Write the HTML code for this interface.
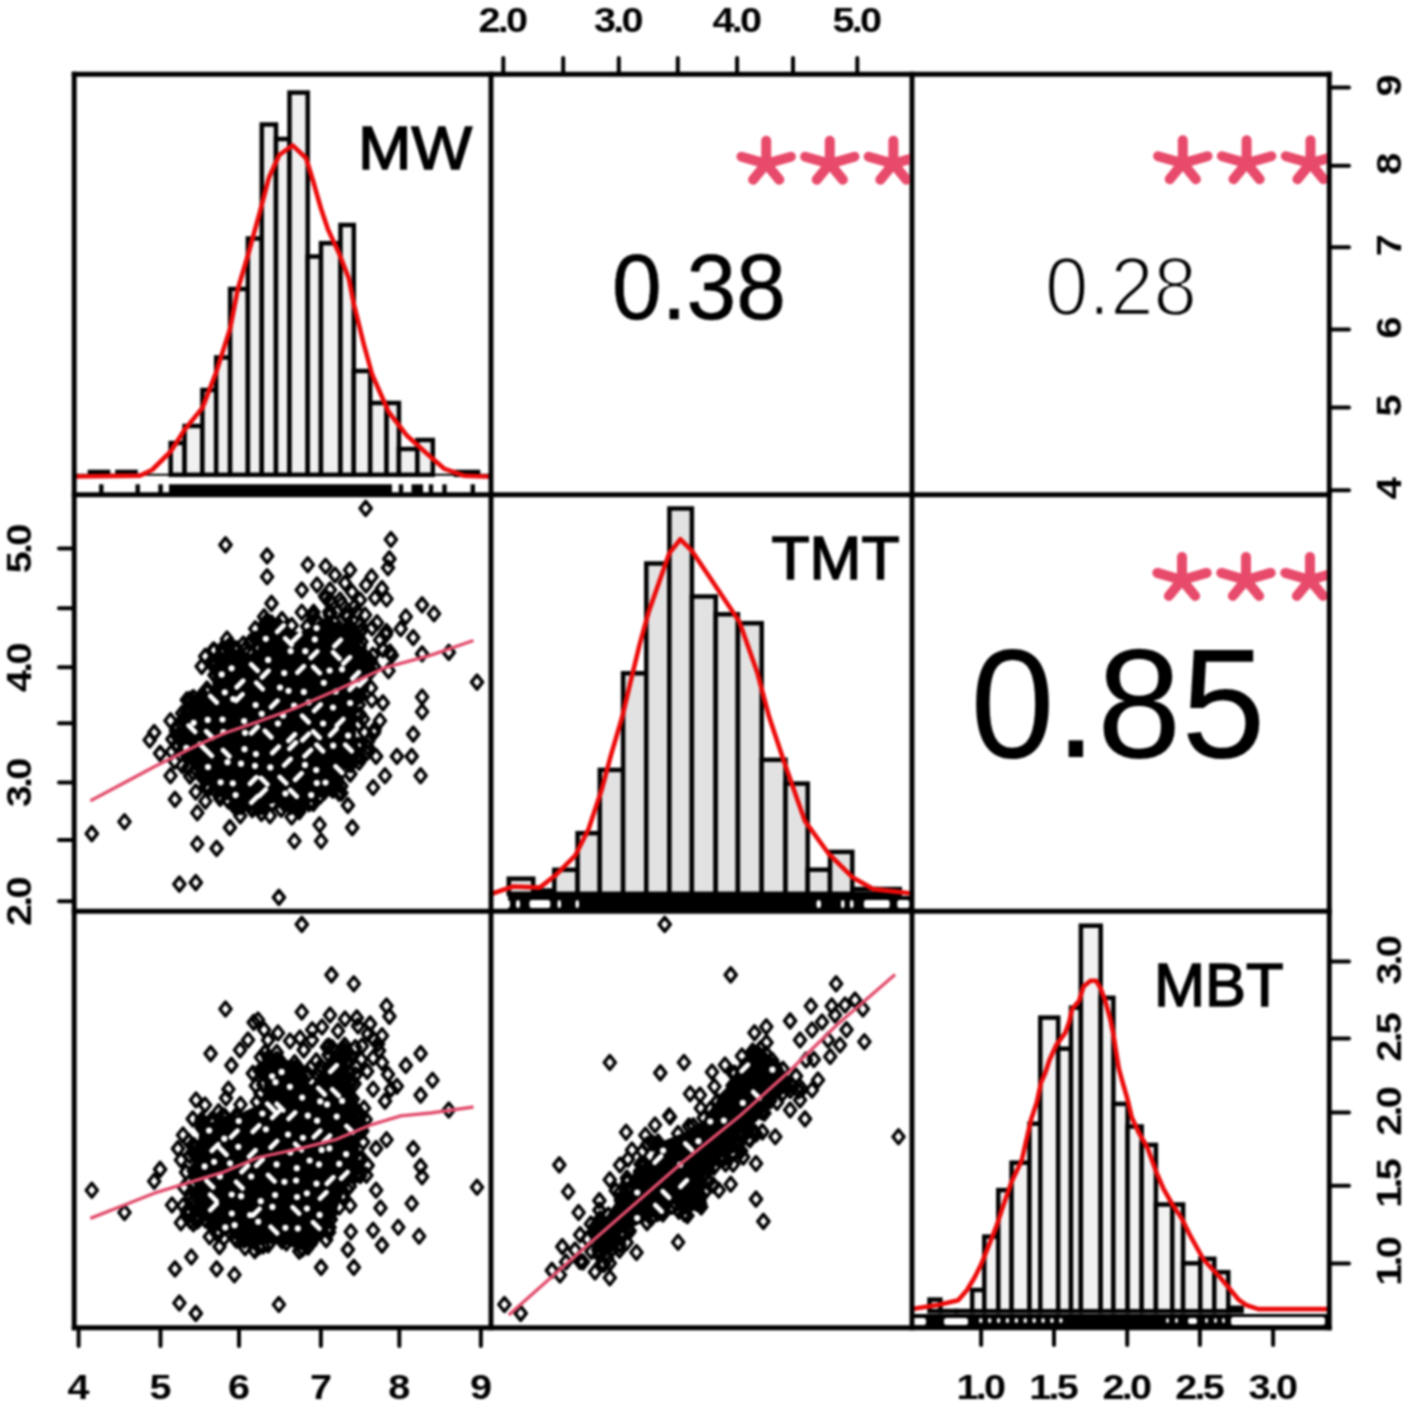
<!DOCTYPE html>
<html><head><meta charset="utf-8"><title>Correlation chart</title>
<style>html,body{margin:0;padding:0;background:#fff;}svg{display:block;filter:blur(0.9px);}</style></head>
<body><svg width="1417" height="1414" viewBox="0 0 1417 1414">
<rect width="1417" height="1414" fill="#fff"/>
<defs>
<clipPath id="c12"><rect x="491" y="74" width="418.8" height="420"/></clipPath>
<clipPath id="c13"><rect x="912" y="74" width="415.1" height="420"/></clipPath>
<clipPath id="c23"><rect x="912" y="495" width="415.1" height="416"/></clipPath>
</defs>
<rect x="170.7" y="443.0" width="13.9" height="31.8" fill="#f0f0f0" stroke="#000" stroke-width="4.5"/>
<rect x="184.6" y="426.0" width="17.8" height="48.8" fill="#f0f0f0" stroke="#000" stroke-width="4.5"/>
<rect x="202.4" y="390.0" width="13.8" height="84.8" fill="#f0f0f0" stroke="#000" stroke-width="4.5"/>
<rect x="216.2" y="357.5" width="13.9" height="117.3" fill="#f0f0f0" stroke="#000" stroke-width="4.5"/>
<rect x="230.1" y="289.0" width="17.8" height="185.8" fill="#f0f0f0" stroke="#000" stroke-width="4.5"/>
<rect x="247.9" y="238.5" width="13.9" height="236.3" fill="#f0f0f0" stroke="#000" stroke-width="4.5"/>
<rect x="261.8" y="124.5" width="14.2" height="350.3" fill="#f0f0f0" stroke="#000" stroke-width="4.5"/>
<rect x="276.0" y="139.0" width="13.5" height="335.8" fill="#f0f0f0" stroke="#000" stroke-width="4.5"/>
<rect x="289.5" y="92.6" width="18.2" height="382.2" fill="#f0f0f0" stroke="#000" stroke-width="4.5"/>
<rect x="307.7" y="256.5" width="13.3" height="218.3" fill="#f0f0f0" stroke="#000" stroke-width="4.5"/>
<rect x="321.0" y="243.2" width="19.5" height="231.6" fill="#f0f0f0" stroke="#000" stroke-width="4.5"/>
<rect x="340.5" y="225.0" width="13.3" height="249.8" fill="#f0f0f0" stroke="#000" stroke-width="4.5"/>
<rect x="353.8" y="371.0" width="16.4" height="103.8" fill="#f0f0f0" stroke="#000" stroke-width="4.5"/>
<rect x="370.2" y="403.0" width="16.4" height="71.8" fill="#f0f0f0" stroke="#000" stroke-width="4.5"/>
<rect x="386.6" y="403.0" width="12.3" height="71.8" fill="#f0f0f0" stroke="#000" stroke-width="4.5"/>
<rect x="398.9" y="449.0" width="18.5" height="25.8" fill="#f0f0f0" stroke="#000" stroke-width="4.5"/>
<rect x="417.4" y="440.0" width="15.4" height="34.8" fill="#f0f0f0" stroke="#000" stroke-width="4.5"/>
<rect x="90" y="472" width="18" height="2.8000000000000114" fill="#f0f0f0" stroke="#000" stroke-width="4.6"/>
<rect x="117.5" y="472" width="18.0" height="2.8000000000000114" fill="#f0f0f0" stroke="#000" stroke-width="4.6"/>
<rect x="456" y="472" width="22" height="2.8000000000000114" fill="#f0f0f0" stroke="#000" stroke-width="4.6"/>
<line x1="74" y1="474.8" x2="491" y2="474.8" stroke="#000" stroke-width="2"/>
<rect x="508.8" y="878.7" width="24.4" height="15.1" fill="#e2e2e2" stroke="#000" stroke-width="4.5"/>
<rect x="533.2" y="890.5" width="21.1" height="3.3" fill="#e2e2e2" stroke="#000" stroke-width="4.5"/>
<rect x="554.3" y="869.8" width="23.3" height="24.0" fill="#e2e2e2" stroke="#000" stroke-width="4.5"/>
<rect x="577.6" y="833.2" width="22.2" height="60.6" fill="#e2e2e2" stroke="#000" stroke-width="4.5"/>
<rect x="599.8" y="769.9" width="23.3" height="123.9" fill="#e2e2e2" stroke="#000" stroke-width="4.5"/>
<rect x="623.1" y="673.3" width="23.2" height="220.5" fill="#e2e2e2" stroke="#000" stroke-width="4.5"/>
<rect x="646.3" y="563.5" width="23.1" height="330.3" fill="#e2e2e2" stroke="#000" stroke-width="4.5"/>
<rect x="669.4" y="508.5" width="22.5" height="385.3" fill="#e2e2e2" stroke="#000" stroke-width="4.5"/>
<rect x="691.9" y="596.5" width="23.8" height="297.3" fill="#e2e2e2" stroke="#000" stroke-width="4.5"/>
<rect x="715.7" y="614.3" width="22.2" height="279.5" fill="#e2e2e2" stroke="#000" stroke-width="4.5"/>
<rect x="737.9" y="623.2" width="23.8" height="270.6" fill="#e2e2e2" stroke="#000" stroke-width="4.5"/>
<rect x="761.7" y="759.8" width="23.8" height="134.0" fill="#e2e2e2" stroke="#000" stroke-width="4.5"/>
<rect x="785.5" y="783.6" width="22.2" height="110.2" fill="#e2e2e2" stroke="#000" stroke-width="4.5"/>
<rect x="807.7" y="869.7" width="22.3" height="24.1" fill="#e2e2e2" stroke="#000" stroke-width="4.5"/>
<rect x="830.0" y="851.9" width="22.3" height="41.9" fill="#e2e2e2" stroke="#000" stroke-width="4.5"/>
<rect x="852.3" y="889.0" width="23.8" height="4.8" fill="#e2e2e2" stroke="#000" stroke-width="4.5"/>
<rect x="876.1" y="889.0" width="23.7" height="4.8" fill="#e2e2e2" stroke="#000" stroke-width="4.5"/>
<rect x="929.5" y="1299.6" width="10.9" height="11.6" fill="#f2f2f2" stroke="#000" stroke-width="4.5"/>
<rect x="940.4" y="1311.0" width="15.9" height="0.2" fill="#f2f2f2" stroke="#000" stroke-width="4.5"/>
<rect x="956.3" y="1311.0" width="15.9" height="0.2" fill="#f2f2f2" stroke="#000" stroke-width="4.5"/>
<rect x="972.2" y="1290.0" width="12.1" height="21.2" fill="#f2f2f2" stroke="#000" stroke-width="4.5"/>
<rect x="984.3" y="1236.6" width="14.0" height="74.6" fill="#f2f2f2" stroke="#000" stroke-width="4.5"/>
<rect x="998.3" y="1190.1" width="13.3" height="121.1" fill="#f2f2f2" stroke="#000" stroke-width="4.5"/>
<rect x="1011.6" y="1162.7" width="17.9" height="148.5" fill="#f2f2f2" stroke="#000" stroke-width="4.5"/>
<rect x="1029.5" y="1123.7" width="10.8" height="187.5" fill="#f2f2f2" stroke="#000" stroke-width="4.5"/>
<rect x="1040.3" y="1017.6" width="17.9" height="293.6" fill="#f2f2f2" stroke="#000" stroke-width="4.5"/>
<rect x="1058.2" y="1048.7" width="12.8" height="262.5" fill="#f2f2f2" stroke="#000" stroke-width="4.5"/>
<rect x="1071.0" y="1007.7" width="9.9" height="303.5" fill="#f2f2f2" stroke="#000" stroke-width="4.5"/>
<rect x="1080.9" y="925.7" width="19.8" height="385.5" fill="#f2f2f2" stroke="#000" stroke-width="4.5"/>
<rect x="1100.7" y="997.8" width="12.7" height="313.4" fill="#f2f2f2" stroke="#000" stroke-width="4.5"/>
<rect x="1113.4" y="1103.9" width="14.2" height="207.3" fill="#f2f2f2" stroke="#000" stroke-width="4.5"/>
<rect x="1127.6" y="1126.5" width="14.1" height="184.7" fill="#f2f2f2" stroke="#000" stroke-width="4.5"/>
<rect x="1141.7" y="1144.9" width="14.2" height="166.3" fill="#f2f2f2" stroke="#000" stroke-width="4.5"/>
<rect x="1155.9" y="1204.5" width="16.4" height="106.7" fill="#f2f2f2" stroke="#000" stroke-width="4.5"/>
<rect x="1172.3" y="1204.5" width="10.8" height="106.7" fill="#f2f2f2" stroke="#000" stroke-width="4.5"/>
<rect x="1183.1" y="1263.3" width="17.2" height="47.9" fill="#f2f2f2" stroke="#000" stroke-width="4.5"/>
<rect x="1200.3" y="1258.8" width="14.0" height="52.4" fill="#f2f2f2" stroke="#000" stroke-width="4.5"/>
<rect x="1214.3" y="1272.2" width="14.0" height="39.0" fill="#f2f2f2" stroke="#000" stroke-width="4.5"/>
<rect x="1228.3" y="1307.8" width="13.3" height="3.4" fill="#f2f2f2" stroke="#000" stroke-width="4.5"/>
<rect x="169" y="484.3" width="223" height="9.699999999999989" fill="#000"/>
<rect x="411.5" y="484.3" width="11.5" height="9.699999999999989" fill="#000"/>
<rect x="99.1" y="484.3" width="4.4" height="9.699999999999989" fill="#000"/>
<rect x="135.5" y="484.3" width="4.4" height="9.699999999999989" fill="#000"/>
<rect x="158.4" y="484.3" width="4.4" height="9.699999999999989" fill="#000"/>
<rect x="398.8" y="484.3" width="4.4" height="9.699999999999989" fill="#000"/>
<rect x="428.8" y="484.3" width="4.4" height="9.699999999999989" fill="#000"/>
<rect x="442.3" y="484.3" width="4.4" height="9.699999999999989" fill="#000"/>
<rect x="470.6" y="484.3" width="4.4" height="9.699999999999989" fill="#000"/>
<rect x="508" y="896" width="404" height="15" fill="#000"/>
<rect x="496" y="900" width="14" height="8" rx="2.5" fill="#fff"/>
<rect x="516" y="900" width="4" height="8" rx="2.5" fill="#fff"/>
<rect x="529.5" y="900" width="20.799999999999955" height="8" rx="2.5" fill="#fff"/>
<rect x="557.5" y="900" width="3.5" height="8" rx="2.5" fill="#fff"/>
<rect x="575.5" y="900" width="3.5" height="8" rx="2.5" fill="#fff"/>
<rect x="816.5" y="900" width="4.5" height="8" rx="2.5" fill="#fff"/>
<rect x="841" y="900" width="3.5" height="8" rx="2.5" fill="#fff"/>
<rect x="850" y="900" width="3.5" height="8" rx="2.5" fill="#fff"/>
<rect x="863.9" y="900" width="25.800000000000068" height="8" rx="2.5" fill="#fff"/>
<rect x="897.3" y="900" width="12.100000000000023" height="8" rx="2.5" fill="#fff"/>
<rect x="912" y="1314" width="417" height="14" fill="#000"/>
<rect x="912" y="1318" width="14" height="7" rx="2.5" fill="#fff"/>
<rect x="944" y="1318" width="24" height="7" rx="2.5" fill="#fff"/>
<rect x="979.0" y="1318" width="3.5" height="5" rx="2.5" fill="#fff"/>
<rect x="987.9" y="1318" width="3.5" height="5" rx="2.5" fill="#fff"/>
<rect x="996.8" y="1318" width="3.5" height="5" rx="2.5" fill="#fff"/>
<rect x="1005.7" y="1318" width="3.5" height="5" rx="2.5" fill="#fff"/>
<rect x="1014.6" y="1318" width="3.5" height="5" rx="2.5" fill="#fff"/>
<rect x="1023.5" y="1318" width="3.5" height="5" rx="2.5" fill="#fff"/>
<rect x="1032.4" y="1318" width="3.5" height="5" rx="2.5" fill="#fff"/>
<rect x="1041.3" y="1318" width="3.5" height="5" rx="2.5" fill="#fff"/>
<rect x="1050.2" y="1318" width="3.5" height="5" rx="2.5" fill="#fff"/>
<rect x="1059.1" y="1318" width="3.5" height="5" rx="2.5" fill="#fff"/>
<rect x="1166" y="1318" width="3" height="5" rx="2.5" fill="#fff"/>
<rect x="1175" y="1318" width="3" height="5" rx="2.5" fill="#fff"/>
<rect x="1188" y="1318" width="9" height="6" rx="2.5" fill="#fff"/>
<rect x="1205" y="1318" width="3" height="5" rx="2.5" fill="#fff"/>
<rect x="1214" y="1318" width="3" height="5" rx="2.5" fill="#fff"/>
<rect x="1222" y="1318" width="3" height="5" rx="2.5" fill="#fff"/>
<rect x="1231" y="1317" width="94" height="8" rx="2.5" fill="#fff"/>
<polyline points="74.0,476.5 140.0,475.6 152.0,470.0 170.7,451.5 184.6,429.7 202.4,407.9 216.2,372.3 230.1,328.7 237.6,290.0 248.0,255.0 259.9,212.0 268.8,178.0 279.2,155.0 292.6,145.3 306.0,158.0 313.4,182.0 320.8,208.0 328.2,229.9 338.6,252.2 349.0,279.0 353.8,304.0 364.0,345.0 372.3,375.0 388.7,412.0 407.1,435.8 427.6,454.3 444.0,468.6 464.5,475.8 491.0,476.8" fill="none" stroke="#ec0a0a" stroke-width="4.6" stroke-linejoin="round" stroke-linecap="round" />
<polyline points="491.0,894.0 513.2,886.5 539.8,887.6 555.4,875.3 575.4,855.3 588.7,828.7 602.0,788.7 610.9,755.4 622.0,717.7 628.6,690.0 639.5,645.0 648.4,612.8 658.8,583.1 669.2,553.4 680.4,539.3 691.5,550.4 709.7,577.2 739.4,621.7 757.2,672.2 769.1,716.8 784.0,761.4 804.8,820.8 828.5,853.5 852.3,877.2 873.1,889.1 912.0,893.5" fill="none" stroke="#ec0a0a" stroke-width="4.6" stroke-linejoin="round" stroke-linecap="round" />
<polyline points="912.0,1309.0 939.1,1304.7 958.2,1300.2 967.1,1290.0 974.7,1277.3 981.1,1264.6 986.2,1251.8 996.4,1226.4 1002.7,1207.3 1011.6,1181.8 1021.8,1160.2 1031.1,1119.4 1036.8,1102.5 1041.0,1082.7 1045.3,1072.8 1049.5,1060.0 1056.6,1044.5 1065.1,1033.2 1069.3,1021.8 1072.1,1009.1 1079.2,1000.6 1083.5,986.5 1090.5,980.8 1096.2,980.8 1100.4,987.9 1104.7,999.2 1110.3,1019.0 1113.2,1033.2 1116.0,1051.5 1118.8,1068.5 1122.6,1082.3 1127.2,1098.1 1131.7,1117.3 1138.5,1132.0 1147.5,1147.9 1156.6,1172.8 1163.4,1188.6 1172.4,1204.5 1181.5,1218.0 1190.5,1236.2 1203.5,1259.5 1220.0,1277.3 1239.1,1300.2 1246.7,1305.3 1258.2,1309.1 1329.0,1309.1" fill="none" stroke="#ec0a0a" stroke-width="4.6" stroke-linejoin="round" stroke-linecap="round" />
<clipPath id="sc21"><rect x="76.4" y="497" width="412.4" height="412"/></clipPath>
<clipPath id="sc31"><rect x="76.4" y="913.4" width="412.4" height="412"/></clipPath>
<clipPath id="sc32"><rect x="493.2" y="913.4" width="416.6" height="412"/></clipPath>
<g clip-path="url(#sc21)">
<polygon points="178.5,737.7 178.5,751.4 182.3,757.1 193.0,765.1 205.8,774.0 206.5,774.6 207.2,775.2 207.8,775.8 208.3,776.6 208.7,777.4 216.4,793.6 227.3,798.7 244.9,800.5 245.8,800.7 262.0,804.3 278.2,800.7 279.0,800.6 279.9,800.5 280.8,800.5 281.7,800.7 282.6,800.9 298.0,805.8 308.8,799.6 309.7,799.2 310.6,798.8 326.7,794.1 342.0,785.7 343.5,771.1 343.7,770.3 343.9,769.6 344.1,768.8 344.4,768.1 344.8,767.5 345.3,766.8 345.8,766.2 356.2,755.0 354.5,736.8 354.5,736.0 354.5,713.0 354.5,712.2 354.6,711.4 354.8,710.7 355.1,709.9 364.1,686.9 364.4,686.2 364.7,685.6 365.1,685.0 365.6,684.4 376.3,672.2 372.5,662.3 361.4,648.3 361.2,648.2 349.1,632.3 336.2,623.7 323.9,619.6 320.5,622.5 319.9,623.0 319.2,623.4 303.2,632.4 302.4,632.8 301.6,633.1 300.8,633.3 300.0,633.4 299.1,633.5 298.3,633.5 297.4,633.4 296.6,633.2 295.8,632.9 295.0,632.5 279.4,624.2 269.8,623.0 261.1,634.3 259.4,648.1 259.3,648.9 259.1,649.7 258.8,650.5 258.4,651.2 257.9,651.9 257.4,652.6 256.8,653.2 256.2,653.7 255.5,654.2 254.8,654.6 254.0,655.0 253.2,655.2 252.4,655.4 251.5,655.5 250.7,655.5 249.9,655.4 249.0,655.3 248.2,655.0 228.1,648.1 215.3,665.1 213.5,688.7 213.4,689.5 213.2,690.3 212.9,691.1 212.6,691.9 212.1,692.6 211.7,693.3 211.1,693.9 210.5,694.5 209.8,695.0 209.1,695.4 191.7,705.0 178.5,737.7" fill="#000" stroke="#000" stroke-width="3" stroke-linejoin="round"/>
<path d="M369.8,654.0l5.6,7.0l-5.6,7.0l-5.6,-7.0zM353.4,754.3l5.6,7.0l-5.6,7.0l-5.6,-7.0zM284.5,797.4l5.6,7.0l-5.6,7.0l-5.6,-7.0zM188.9,702.8l5.6,7.0l-5.6,7.0l-5.6,-7.0zM374.1,659.9l5.6,7.0l-5.6,7.0l-5.6,-7.0zM250.1,796.5l5.6,7.0l-5.6,7.0l-5.6,-7.0zM290.7,799.4l5.6,7.0l-5.6,7.0l-5.6,-7.0zM241.8,799.6l5.6,7.0l-5.6,7.0l-5.6,-7.0zM176.5,738.4l5.6,7.0l-5.6,7.0l-5.6,-7.0zM307.2,619.4l5.6,7.0l-5.6,7.0l-5.6,-7.0zM214.6,668.1l5.6,7.0l-5.6,7.0l-5.6,-7.0zM362.2,622.6l5.6,7.0l-5.6,7.0l-5.6,-7.0zM207.1,781.8l5.6,7.0l-5.6,7.0l-5.6,-7.0zM221.5,646.5l5.6,7.0l-5.6,7.0l-5.6,-7.0zM243.3,637.0l5.6,7.0l-5.6,7.0l-5.6,-7.0zM350.3,766.8l5.6,7.0l-5.6,7.0l-5.6,-7.0zM261.1,796.6l5.6,7.0l-5.6,7.0l-5.6,-7.0zM361.5,634.7l5.6,7.0l-5.6,7.0l-5.6,-7.0zM214.5,654.8l5.6,7.0l-5.6,7.0l-5.6,-7.0zM299.3,804.6l5.6,7.0l-5.6,7.0l-5.6,-7.0zM354.6,625.2l5.6,7.0l-5.6,7.0l-5.6,-7.0zM329.3,604.9l5.6,7.0l-5.6,7.0l-5.6,-7.0zM291.6,810.0l5.6,7.0l-5.6,7.0l-5.6,-7.0zM183.1,712.1l5.6,7.0l-5.6,7.0l-5.6,-7.0zM201.7,659.4l5.6,7.0l-5.6,7.0l-5.6,-7.0zM359.6,688.9l5.6,7.0l-5.6,7.0l-5.6,-7.0zM222.2,642.3l5.6,7.0l-5.6,7.0l-5.6,-7.0zM190.3,692.2l5.6,7.0l-5.6,7.0l-5.6,-7.0zM227.9,640.0l5.6,7.0l-5.6,7.0l-5.6,-7.0zM188.3,760.4l5.6,7.0l-5.6,7.0l-5.6,-7.0zM299.5,801.7l5.6,7.0l-5.6,7.0l-5.6,-7.0zM202.5,764.3l5.6,7.0l-5.6,7.0l-5.6,-7.0zM186.3,711.4l5.6,7.0l-5.6,7.0l-5.6,-7.0zM360.0,707.6l5.6,7.0l-5.6,7.0l-5.6,-7.0zM265.2,617.2l5.6,7.0l-5.6,7.0l-5.6,-7.0zM182.2,706.3l5.6,7.0l-5.6,7.0l-5.6,-7.0zM311.2,794.4l5.6,7.0l-5.6,7.0l-5.6,-7.0zM205.3,649.4l5.6,7.0l-5.6,7.0l-5.6,-7.0zM359.9,639.5l5.6,7.0l-5.6,7.0l-5.6,-7.0zM206.7,769.3l5.6,7.0l-5.6,7.0l-5.6,-7.0zM207.2,685.2l5.6,7.0l-5.6,7.0l-5.6,-7.0zM388.5,663.7l5.6,7.0l-5.6,7.0l-5.6,-7.0zM360.4,689.0l5.6,7.0l-5.6,7.0l-5.6,-7.0zM248.9,644.5l5.6,7.0l-5.6,7.0l-5.6,-7.0zM366.8,745.8l5.6,7.0l-5.6,7.0l-5.6,-7.0zM213.3,643.1l5.6,7.0l-5.6,7.0l-5.6,-7.0zM209.2,781.1l5.6,7.0l-5.6,7.0l-5.6,-7.0zM371.7,693.0l5.6,7.0l-5.6,7.0l-5.6,-7.0zM177.1,729.1l5.6,7.0l-5.6,7.0l-5.6,-7.0zM313.6,605.3l5.6,7.0l-5.6,7.0l-5.6,-7.0zM256.6,794.7l5.6,7.0l-5.6,7.0l-5.6,-7.0zM200.5,761.4l5.6,7.0l-5.6,7.0l-5.6,-7.0zM279.1,618.7l5.6,7.0l-5.6,7.0l-5.6,-7.0zM206.9,682.1l5.6,7.0l-5.6,7.0l-5.6,-7.0zM180.1,729.9l5.6,7.0l-5.6,7.0l-5.6,-7.0zM210.2,770.1l5.6,7.0l-5.6,7.0l-5.6,-7.0zM358.6,630.5l5.6,7.0l-5.6,7.0l-5.6,-7.0zM186.8,706.0l5.6,7.0l-5.6,7.0l-5.6,-7.0zM298.5,799.2l5.6,7.0l-5.6,7.0l-5.6,-7.0zM263.2,626.3l5.6,7.0l-5.6,7.0l-5.6,-7.0zM281.2,802.4l5.6,7.0l-5.6,7.0l-5.6,-7.0zM271.6,616.0l5.6,7.0l-5.6,7.0l-5.6,-7.0zM313.4,796.5l5.6,7.0l-5.6,7.0l-5.6,-7.0zM233.7,798.6l5.6,7.0l-5.6,7.0l-5.6,-7.0zM234.1,641.6l5.6,7.0l-5.6,7.0l-5.6,-7.0zM357.9,738.4l5.6,7.0l-5.6,7.0l-5.6,-7.0zM361.2,737.7l5.6,7.0l-5.6,7.0l-5.6,-7.0zM368.0,734.5l5.6,7.0l-5.6,7.0l-5.6,-7.0zM205.4,794.2l5.6,7.0l-5.6,7.0l-5.6,-7.0zM359.9,624.7l5.6,7.0l-5.6,7.0l-5.6,-7.0zM201.7,769.7l5.6,7.0l-5.6,7.0l-5.6,-7.0zM354.0,628.2l5.6,7.0l-5.6,7.0l-5.6,-7.0zM362.9,646.8l5.6,7.0l-5.6,7.0l-5.6,-7.0zM351.7,753.8l5.6,7.0l-5.6,7.0l-5.6,-7.0zM251.0,801.1l5.6,7.0l-5.6,7.0l-5.6,-7.0zM193.4,690.5l5.6,7.0l-5.6,7.0l-5.6,-7.0zM261.3,631.1l5.6,7.0l-5.6,7.0l-5.6,-7.0zM313.3,609.2l5.6,7.0l-5.6,7.0l-5.6,-7.0zM257.8,639.0l5.6,7.0l-5.6,7.0l-5.6,-7.0zM348.2,754.5l5.6,7.0l-5.6,7.0l-5.6,-7.0zM350.3,757.7l5.6,7.0l-5.6,7.0l-5.6,-7.0zM175.9,723.8l5.6,7.0l-5.6,7.0l-5.6,-7.0zM206.0,779.4l5.6,7.0l-5.6,7.0l-5.6,-7.0zM250.3,634.9l5.6,7.0l-5.6,7.0l-5.6,-7.0zM358.9,697.7l5.6,7.0l-5.6,7.0l-5.6,-7.0zM240.8,791.4l5.6,7.0l-5.6,7.0l-5.6,-7.0zM212.7,656.9l5.6,7.0l-5.6,7.0l-5.6,-7.0zM352.7,624.1l5.6,7.0l-5.6,7.0l-5.6,-7.0zM262.3,799.3l5.6,7.0l-5.6,7.0l-5.6,-7.0zM269.6,618.4l5.6,7.0l-5.6,7.0l-5.6,-7.0zM288.1,794.4l5.6,7.0l-5.6,7.0l-5.6,-7.0zM320.3,788.9l5.6,7.0l-5.6,7.0l-5.6,-7.0zM236.7,794.1l5.6,7.0l-5.6,7.0l-5.6,-7.0zM203.9,689.6l5.6,7.0l-5.6,7.0l-5.6,-7.0zM361.9,681.9l5.6,7.0l-5.6,7.0l-5.6,-7.0zM345.2,607.8l5.6,7.0l-5.6,7.0l-5.6,-7.0zM216.0,657.0l5.6,7.0l-5.6,7.0l-5.6,-7.0zM220.1,791.5l5.6,7.0l-5.6,7.0l-5.6,-7.0zM356.6,750.7l5.6,7.0l-5.6,7.0l-5.6,-7.0zM201.3,766.8l5.6,7.0l-5.6,7.0l-5.6,-7.0zM298.4,802.7l5.6,7.0l-5.6,7.0l-5.6,-7.0zM177.2,738.0l5.6,7.0l-5.6,7.0l-5.6,-7.0zM351.6,621.3l5.6,7.0l-5.6,7.0l-5.6,-7.0zM292.7,796.3l5.6,7.0l-5.6,7.0l-5.6,-7.0zM264.8,622.1l5.6,7.0l-5.6,7.0l-5.6,-7.0zM215.5,669.2l5.6,7.0l-5.6,7.0l-5.6,-7.0zM351.3,756.9l5.6,7.0l-5.6,7.0l-5.6,-7.0zM291.7,618.5l5.6,7.0l-5.6,7.0l-5.6,-7.0zM372.9,648.3l5.6,7.0l-5.6,7.0l-5.6,-7.0zM219.4,788.7l5.6,7.0l-5.6,7.0l-5.6,-7.0zM223.3,646.2l5.6,7.0l-5.6,7.0l-5.6,-7.0zM363.1,712.0l5.6,7.0l-5.6,7.0l-5.6,-7.0zM261.4,806.4l5.6,7.0l-5.6,7.0l-5.6,-7.0zM172.4,732.1l5.6,7.0l-5.6,7.0l-5.6,-7.0zM331.2,781.8l5.6,7.0l-5.6,7.0l-5.6,-7.0zM272.0,796.6l5.6,7.0l-5.6,7.0l-5.6,-7.0zM282.0,612.6l5.6,7.0l-5.6,7.0l-5.6,-7.0zM332.9,783.1l5.6,7.0l-5.6,7.0l-5.6,-7.0zM174.7,754.2l5.6,7.0l-5.6,7.0l-5.6,-7.0zM329.9,608.2l5.6,7.0l-5.6,7.0l-5.6,-7.0zM236.7,641.9l5.6,7.0l-5.6,7.0l-5.6,-7.0zM315.8,612.5l5.6,7.0l-5.6,7.0l-5.6,-7.0zM240.3,794.2l5.6,7.0l-5.6,7.0l-5.6,-7.0zM347.7,621.8l5.6,7.0l-5.6,7.0l-5.6,-7.0zM339.1,620.9l5.6,7.0l-5.6,7.0l-5.6,-7.0zM202.3,687.5l5.6,7.0l-5.6,7.0l-5.6,-7.0zM297.0,798.6l5.6,7.0l-5.6,7.0l-5.6,-7.0zM190.1,769.1l5.6,7.0l-5.6,7.0l-5.6,-7.0zM222.6,641.1l5.6,7.0l-5.6,7.0l-5.6,-7.0zM330.7,605.7l5.6,7.0l-5.6,7.0l-5.6,-7.0zM265.9,615.1l5.6,7.0l-5.6,7.0l-5.6,-7.0zM244.2,643.3l5.6,7.0l-5.6,7.0l-5.6,-7.0zM177.9,720.7l5.6,7.0l-5.6,7.0l-5.6,-7.0zM229.7,638.5l5.6,7.0l-5.6,7.0l-5.6,-7.0zM182.3,758.6l5.6,7.0l-5.6,7.0l-5.6,-7.0zM341.4,786.0l5.6,7.0l-5.6,7.0l-5.6,-7.0zM339.1,786.3l5.6,7.0l-5.6,7.0l-5.6,-7.0zM255.4,632.3l5.6,7.0l-5.6,7.0l-5.6,-7.0zM358.7,717.3l5.6,7.0l-5.6,7.0l-5.6,-7.0zM344.7,624.5l5.6,7.0l-5.6,7.0l-5.6,-7.0zM214.4,643.3l5.6,7.0l-5.6,7.0l-5.6,-7.0zM262.5,629.7l5.6,7.0l-5.6,7.0l-5.6,-7.0zM237.9,799.9l5.6,7.0l-5.6,7.0l-5.6,-7.0zM171.8,744.8l5.6,7.0l-5.6,7.0l-5.6,-7.0zM362.5,679.0l5.6,7.0l-5.6,7.0l-5.6,-7.0zM259.0,800.7l5.6,7.0l-5.6,7.0l-5.6,-7.0zM309.0,796.7l5.6,7.0l-5.6,7.0l-5.6,-7.0zM193.0,765.6l5.6,7.0l-5.6,7.0l-5.6,-7.0zM324.2,785.3l5.6,7.0l-5.6,7.0l-5.6,-7.0zM199.4,692.5l5.6,7.0l-5.6,7.0l-5.6,-7.0zM364.6,725.4l5.6,7.0l-5.6,7.0l-5.6,-7.0zM355.0,628.4l5.6,7.0l-5.6,7.0l-5.6,-7.0zM188.6,705.9l5.6,7.0l-5.6,7.0l-5.6,-7.0zM359.5,749.5l5.6,7.0l-5.6,7.0l-5.6,-7.0zM225.5,537.9l5.6,7.0l-5.6,7.0l-5.6,-7.0zM267.1,548.9l5.6,7.0l-5.6,7.0l-5.6,-7.0zM267.1,569.7l5.6,7.0l-5.6,7.0l-5.6,-7.0zM271.5,596.4l5.6,7.0l-5.6,7.0l-5.6,-7.0zM264.1,609.8l5.6,7.0l-5.6,7.0l-5.6,-7.0zM255.2,621.7l5.6,7.0l-5.6,7.0l-5.6,-7.0zM227.0,632.0l5.6,7.0l-5.6,7.0l-5.6,-7.0zM210.6,655.8l5.6,7.0l-5.6,7.0l-5.6,-7.0zM186.9,692.9l5.6,7.0l-5.6,7.0l-5.6,-7.0zM170.5,713.7l5.6,7.0l-5.6,7.0l-5.6,-7.0zM154.2,725.6l5.6,7.0l-5.6,7.0l-5.6,-7.0zM149.7,733.0l5.6,7.0l-5.6,7.0l-5.6,-7.0zM160.1,746.4l5.6,7.0l-5.6,7.0l-5.6,-7.0zM170.5,768.7l5.6,7.0l-5.6,7.0l-5.6,-7.0zM175.0,792.4l5.6,7.0l-5.6,7.0l-5.6,-7.0zM195.8,785.0l5.6,7.0l-5.6,7.0l-5.6,-7.0zM197.3,805.8l5.6,7.0l-5.6,7.0l-5.6,-7.0zM124.5,814.7l5.6,7.0l-5.6,7.0l-5.6,-7.0zM91.8,826.6l5.6,7.0l-5.6,7.0l-5.6,-7.0zM197.3,837.0l5.6,7.0l-5.6,7.0l-5.6,-7.0zM216.6,841.4l5.6,7.0l-5.6,7.0l-5.6,-7.0zM229.9,820.6l5.6,7.0l-5.6,7.0l-5.6,-7.0zM179.4,877.1l5.6,7.0l-5.6,7.0l-5.6,-7.0zM195.8,875.6l5.6,7.0l-5.6,7.0l-5.6,-7.0zM278.9,890.4l5.6,7.0l-5.6,7.0l-5.6,-7.0zM270.0,808.8l5.6,7.0l-5.6,7.0l-5.6,-7.0zM365.7,501.4l5.6,7.0l-5.6,7.0l-5.6,-7.0zM390.9,532.5l5.6,7.0l-5.6,7.0l-5.6,-7.0zM389.4,551.9l5.6,7.0l-5.6,7.0l-5.6,-7.0zM388.0,560.8l5.6,7.0l-5.6,7.0l-5.6,-7.0zM307.8,557.8l5.6,7.0l-5.6,7.0l-5.6,-7.0zM325.6,559.3l5.6,7.0l-5.6,7.0l-5.6,-7.0zM371.6,569.7l5.6,7.0l-5.6,7.0l-5.6,-7.0zM382.0,581.6l5.6,7.0l-5.6,7.0l-5.6,-7.0zM386.5,592.0l5.6,7.0l-5.6,7.0l-5.6,-7.0zM301.8,583.0l5.6,7.0l-5.6,7.0l-5.6,-7.0zM301.8,605.3l5.6,7.0l-5.6,7.0l-5.6,-7.0zM422.1,597.9l5.6,7.0l-5.6,7.0l-5.6,-7.0zM434.0,606.8l5.6,7.0l-5.6,7.0l-5.6,-7.0zM405.8,609.8l5.6,7.0l-5.6,7.0l-5.6,-7.0zM413.2,630.6l5.6,7.0l-5.6,7.0l-5.6,-7.0zM386.5,624.6l5.6,7.0l-5.6,7.0l-5.6,-7.0zM422.1,646.9l5.6,7.0l-5.6,7.0l-5.6,-7.0zM448.8,645.4l5.6,7.0l-5.6,7.0l-5.6,-7.0zM477.0,675.1l5.6,7.0l-5.6,7.0l-5.6,-7.0zM422.1,690.0l5.6,7.0l-5.6,7.0l-5.6,-7.0zM422.1,704.8l5.6,7.0l-5.6,7.0l-5.6,-7.0zM413.2,727.1l5.6,7.0l-5.6,7.0l-5.6,-7.0zM411.7,749.4l5.6,7.0l-5.6,7.0l-5.6,-7.0zM396.9,749.4l5.6,7.0l-5.6,7.0l-5.6,-7.0zM376.1,749.4l5.6,7.0l-5.6,7.0l-5.6,-7.0zM385.0,768.7l5.6,7.0l-5.6,7.0l-5.6,-7.0zM420.6,768.7l5.6,7.0l-5.6,7.0l-5.6,-7.0zM373.1,780.5l5.6,7.0l-5.6,7.0l-5.6,-7.0zM374.6,722.6l5.6,7.0l-5.6,7.0l-5.6,-7.0zM347.9,798.4l5.6,7.0l-5.6,7.0l-5.6,-7.0zM352.3,820.6l5.6,7.0l-5.6,7.0l-5.6,-7.0zM319.6,817.7l5.6,7.0l-5.6,7.0l-5.6,-7.0zM321.1,834.0l5.6,7.0l-5.6,7.0l-5.6,-7.0zM294.4,834.0l5.6,7.0l-5.6,7.0l-5.6,-7.0zM335.0,568.0l5.6,7.0l-5.6,7.0l-5.6,-7.0zM345.0,576.0l5.6,7.0l-5.6,7.0l-5.6,-7.0zM352.0,585.0l5.6,7.0l-5.6,7.0l-5.6,-7.0zM360.0,593.0l5.6,7.0l-5.6,7.0l-5.6,-7.0zM340.0,593.0l5.6,7.0l-5.6,7.0l-5.6,-7.0zM330.0,583.0l5.6,7.0l-5.6,7.0l-5.6,-7.0zM350.0,563.0l5.6,7.0l-5.6,7.0l-5.6,-7.0zM366.0,578.0l5.6,7.0l-5.6,7.0l-5.6,-7.0zM375.0,591.0l5.6,7.0l-5.6,7.0l-5.6,-7.0zM357.0,605.0l5.6,7.0l-5.6,7.0l-5.6,-7.0zM317.0,578.0l5.6,7.0l-5.6,7.0l-5.6,-7.0zM325.0,589.0l5.6,7.0l-5.6,7.0l-5.6,-7.0zM377.0,615.7l5.6,7.0l-5.6,7.0l-5.6,-7.0zM385.9,627.6l5.6,7.0l-5.6,7.0l-5.6,-7.0zM400.7,621.7l5.6,7.0l-5.6,7.0l-5.6,-7.0zM382.9,642.4l5.6,7.0l-5.6,7.0l-5.6,-7.0zM391.8,648.4l5.6,7.0l-5.6,7.0l-5.6,-7.0zM371.0,654.3l5.6,7.0l-5.6,7.0l-5.6,-7.0zM365.1,666.2l5.6,7.0l-5.6,7.0l-5.6,-7.0zM371.0,681.0l5.6,7.0l-5.6,7.0l-5.6,-7.0zM382.9,695.9l5.6,7.0l-5.6,7.0l-5.6,-7.0zM379.9,713.7l5.6,7.0l-5.6,7.0l-5.6,-7.0zM374.0,725.6l5.6,7.0l-5.6,7.0l-5.6,-7.0zM368.0,740.4l5.6,7.0l-5.6,7.0l-5.6,-7.0zM359.1,755.3l5.6,7.0l-5.6,7.0l-5.6,-7.0zM350.2,767.2l5.6,7.0l-5.6,7.0l-5.6,-7.0zM341.3,779.1l5.6,7.0l-5.6,7.0l-5.6,-7.0zM216.6,785.0l5.6,7.0l-5.6,7.0l-5.6,-7.0zM204.7,770.1l5.6,7.0l-5.6,7.0l-5.6,-7.0zM228.4,793.9l5.6,7.0l-5.6,7.0l-5.6,-7.0zM240.3,808.8l5.6,7.0l-5.6,7.0l-5.6,-7.0zM252.2,802.8l5.6,7.0l-5.6,7.0l-5.6,-7.0zM330.0,593.0l5.6,7.0l-5.6,7.0l-5.6,-7.0zM342.0,597.0l5.6,7.0l-5.6,7.0l-5.6,-7.0zM355.0,599.0l5.6,7.0l-5.6,7.0l-5.6,-7.0zM365.0,608.0l5.6,7.0l-5.6,7.0l-5.6,-7.0zM372.0,621.0l5.6,7.0l-5.6,7.0l-5.6,-7.0zM380.0,633.0l5.6,7.0l-5.6,7.0l-5.6,-7.0zM390.0,645.0l5.6,7.0l-5.6,7.0l-5.6,-7.0zM348.0,609.0l5.6,7.0l-5.6,7.0l-5.6,-7.0zM360.0,618.0l5.6,7.0l-5.6,7.0l-5.6,-7.0zM337.0,605.0l5.6,7.0l-5.6,7.0l-5.6,-7.0zM326.0,591.0l5.6,7.0l-5.6,7.0l-5.6,-7.0z" fill="none" stroke="#000" stroke-width="3.4" stroke-linejoin="round"/>
<g fill="#fff"><circle cx="316.6" cy="628.1" r="3.1"/><circle cx="265.8" cy="638.8" r="3.1"/><circle cx="314.8" cy="639.4" r="3.1"/><circle cx="268.1" cy="659.9" r="3.1"/><circle cx="290.6" cy="651.1" r="3.1"/><circle cx="305.3" cy="651.2" r="3.1"/><circle cx="221.7" cy="674.4" r="3.1"/><circle cx="231.6" cy="668.3" r="3.1"/><circle cx="284.2" cy="673.1" r="3.1"/><circle cx="329.6" cy="670.5" r="3.1"/><circle cx="342.0" cy="669.3" r="3.1"/><circle cx="224.8" cy="692.3" r="3.1"/><circle cx="280.0" cy="687.5" r="3.1"/><circle cx="288.5" cy="690.8" r="3.1"/><circle cx="303.8" cy="691.9" r="3.1"/><circle cx="323.8" cy="682.8" r="3.1"/><circle cx="335.7" cy="691.5" r="3.1"/><circle cx="233.2" cy="699.1" r="3.1"/><circle cx="255.6" cy="705.0" r="3.1"/><circle cx="294.1" cy="705.6" r="3.1"/><circle cx="308.7" cy="702.3" r="3.1"/><circle cx="333.0" cy="707.5" r="3.1"/><circle cx="350.1" cy="703.0" r="3.1"/><circle cx="193.7" cy="722.8" r="3.1"/><circle cx="207.7" cy="719.9" r="3.1"/><circle cx="222.5" cy="719.5" r="3.1"/><circle cx="244.1" cy="721.0" r="3.1"/><circle cx="261.7" cy="713.8" r="3.1"/><circle cx="277.9" cy="723.6" r="3.1"/><circle cx="283.1" cy="715.5" r="3.1"/><circle cx="323.1" cy="723.5" r="3.1"/><circle cx="223.3" cy="732.0" r="3.1"/><circle cx="245.0" cy="732.8" r="3.1"/><circle cx="348.1" cy="735.6" r="3.1"/><circle cx="186.3" cy="747.9" r="3.1"/><circle cx="244.5" cy="749.2" r="3.1"/><circle cx="255.9" cy="754.1" r="3.1"/><circle cx="333.2" cy="745.7" r="3.1"/><circle cx="208.0" cy="767.0" r="3.1"/><circle cx="227.5" cy="762.2" r="3.1"/><circle cx="241.0" cy="763.7" r="3.1"/><circle cx="255.0" cy="765.8" r="3.1"/><circle cx="270.3" cy="767.4" r="3.1"/><circle cx="305.0" cy="764.9" r="3.1"/><circle cx="316.2" cy="770.0" r="3.1"/><circle cx="220.6" cy="782.3" r="3.1"/><circle cx="232.8" cy="783.3" r="3.1"/><circle cx="316.8" cy="783.1" r="3.1"/><circle cx="325.5" cy="782.5" r="3.1"/><circle cx="235.6" cy="795.1" r="3.1"/><circle cx="285.4" cy="793.6" r="3.1"/><circle cx="311.2" cy="795.1" r="3.1"/></g>
<path d="M277.2,631.9l6.4,-6.4M285.2,638.4l6.4,6.4M293.6,640.8l6.4,-6.4M334.4,646.3l6.4,-6.4M310.9,657.8l6.4,-6.4M333.1,652.3l6.4,6.4M343.5,663.6l6.4,-6.4M251.2,664.4l6.4,6.4M262.1,677.2l6.4,-6.4M297.4,672.6l6.4,-6.4M313.3,666.7l6.4,6.4M352.4,678.6l6.4,-6.4M236.7,687.2l6.4,-6.4M256.3,682.7l6.4,6.4M349.7,689.7l6.4,-6.4M359.4,685.5l6.4,-6.4M210.3,696.1l6.4,6.4M236.1,700.8l6.4,-6.4M271.1,707.1l6.4,-6.4M314.2,710.9l6.4,-6.4M302.2,715.8l6.4,6.4M336.9,725.5l6.4,-6.4M188.7,725.5l6.4,6.4M206.2,731.3l6.4,6.4M251.2,733.3l6.4,-6.4M264.9,730.8l6.4,6.4M288.5,740.7l6.4,-6.4M302.4,740.3l6.4,-6.4M313.2,731.4l6.4,6.4M330.2,735.2l6.4,-6.4M199.7,743.8l6.4,6.4M205.4,749.5l6.4,6.4M223.0,750.0l6.4,6.4M272.3,753.0l6.4,-6.4M289.5,748.9l6.4,-6.4M304.6,756.3l6.4,-6.4M316.6,744.8l6.4,6.4M345.3,744.7l6.4,6.4M284.2,765.4l6.4,-6.4M335.6,766.4l6.4,6.4M250.0,783.7l6.4,-6.4M261.0,778.0l6.4,6.4M279.8,777.0l6.4,6.4M295.2,779.7l6.4,-6.4M251.3,802.6l6.4,-6.4M259.4,795.8l6.4,-6.4M290.3,790.1l6.4,6.4" stroke="#fff" stroke-width="4.8" stroke-linecap="round" fill="none"/>
<polyline points="90.3,800.9 122.0,784.0 154.2,766.8 198.7,744.5 225.0,733.0 252.2,723.7 293.8,708.8 341.3,688.0 385.9,667.3 430.4,655.4 473.5,640.5" fill="none" stroke="#e24c6c" stroke-width="3.3" stroke-linejoin="round"/>
</g>
<g clip-path="url(#sc31)">
<polygon points="200.6,1123.3 201.0,1125.7 201.1,1126.4 201.1,1127.2 201.1,1128.0 199.0,1148.5 198.8,1149.3 198.6,1150.1 191.5,1173.3 197.9,1184.4 198.2,1185.1 198.5,1185.9 198.8,1186.6 198.9,1187.4 199.0,1188.2 199.0,1189.1 198.9,1189.9 198.7,1190.7 195.4,1204.0 201.5,1216.1 215.3,1228.3 232.2,1233.9 233.1,1234.3 233.9,1234.7 234.7,1235.3 249.2,1246.5 259.0,1242.4 259.8,1242.1 260.6,1241.9 261.4,1241.7 262.2,1241.7 263.1,1241.7 285.6,1243.7 286.5,1243.9 287.5,1244.1 303.3,1249.4 315.7,1245.3 322.3,1232.0 322.6,1231.4 334.6,1211.5 342.5,1191.6 342.9,1190.8 343.4,1190.0 343.9,1189.3 354.5,1176.9 358.2,1143.6 354.3,1116.0 354.3,1115.9 350.2,1083.2 346.4,1060.5 340.3,1050.6 332.1,1052.4 321.5,1080.9 321.1,1081.6 320.7,1082.4 320.3,1083.0 319.7,1083.7 319.2,1084.2 318.5,1084.8 317.8,1085.2 317.1,1085.6 316.4,1085.9 315.6,1086.1 314.8,1086.3 313.9,1086.4 313.1,1086.4 312.3,1086.3 311.5,1086.2 310.7,1085.9 310.0,1085.6 309.2,1085.2 308.5,1084.8 307.9,1084.3 307.3,1083.7 306.8,1083.1 306.3,1082.4 305.9,1081.7 295.9,1061.8 284.8,1061.8 283.9,1061.8 283.0,1061.6 282.1,1061.4 266.2,1056.1 265.1,1056.4 265.5,1057.1 265.9,1057.8 266.2,1058.6 266.4,1059.4 266.6,1060.3 266.7,1061.1 266.7,1062.0 264.6,1098.9 264.5,1099.7 264.3,1100.6 264.1,1101.4 263.7,1102.1 263.3,1102.9 262.8,1103.6 262.3,1104.2 261.7,1104.8 261.0,1105.3 260.3,1105.8 259.6,1106.2 241.2,1114.4 241.1,1114.4 222.6,1122.6 221.8,1122.9 221.0,1123.1 220.1,1123.3 219.2,1123.3 200.6,1123.3" fill="#000" stroke="#000" stroke-width="3" stroke-linejoin="round"/>
<path d="M296.2,1060.4l5.6,7.0l-5.6,7.0l-5.6,-7.0zM209.7,1229.8l5.6,7.0l-5.6,7.0l-5.6,-7.0zM316.3,1053.9l5.6,7.0l-5.6,7.0l-5.6,-7.0zM350.0,1089.6l5.6,7.0l-5.6,7.0l-5.6,-7.0zM235.1,1230.6l5.6,7.0l-5.6,7.0l-5.6,-7.0zM348.3,1045.4l5.6,7.0l-5.6,7.0l-5.6,-7.0zM356.3,1167.9l5.6,7.0l-5.6,7.0l-5.6,-7.0zM263.2,1077.7l5.6,7.0l-5.6,7.0l-5.6,-7.0zM329.0,1060.0l5.6,7.0l-5.6,7.0l-5.6,-7.0zM184.1,1180.5l5.6,7.0l-5.6,7.0l-5.6,-7.0zM270.1,1052.4l5.6,7.0l-5.6,7.0l-5.6,-7.0zM188.7,1134.4l5.6,7.0l-5.6,7.0l-5.6,-7.0zM252.9,1066.4l5.6,7.0l-5.6,7.0l-5.6,-7.0zM183.0,1198.7l5.6,7.0l-5.6,7.0l-5.6,-7.0zM350.5,1073.7l5.6,7.0l-5.6,7.0l-5.6,-7.0zM241.7,1231.4l5.6,7.0l-5.6,7.0l-5.6,-7.0zM299.3,1244.1l5.6,7.0l-5.6,7.0l-5.6,-7.0zM348.8,1055.8l5.6,7.0l-5.6,7.0l-5.6,-7.0zM218.6,1104.7l5.6,7.0l-5.6,7.0l-5.6,-7.0zM286.4,1235.9l5.6,7.0l-5.6,7.0l-5.6,-7.0zM343.0,1188.1l5.6,7.0l-5.6,7.0l-5.6,-7.0zM193.7,1146.8l5.6,7.0l-5.6,7.0l-5.6,-7.0zM220.7,1115.4l5.6,7.0l-5.6,7.0l-5.6,-7.0zM343.6,1042.6l5.6,7.0l-5.6,7.0l-5.6,-7.0zM358.0,1150.9l5.6,7.0l-5.6,7.0l-5.6,-7.0zM223.8,1231.5l5.6,7.0l-5.6,7.0l-5.6,-7.0zM196.2,1186.9l5.6,7.0l-5.6,7.0l-5.6,-7.0zM329.1,1225.3l5.6,7.0l-5.6,7.0l-5.6,-7.0zM308.0,1240.2l5.6,7.0l-5.6,7.0l-5.6,-7.0zM191.8,1195.2l5.6,7.0l-5.6,7.0l-5.6,-7.0zM350.6,1097.7l5.6,7.0l-5.6,7.0l-5.6,-7.0zM211.2,1218.2l5.6,7.0l-5.6,7.0l-5.6,-7.0zM204.9,1117.7l5.6,7.0l-5.6,7.0l-5.6,-7.0zM260.8,1064.9l5.6,7.0l-5.6,7.0l-5.6,-7.0zM320.3,1064.6l5.6,7.0l-5.6,7.0l-5.6,-7.0zM196.8,1214.1l5.6,7.0l-5.6,7.0l-5.6,-7.0zM361.9,1151.5l5.6,7.0l-5.6,7.0l-5.6,-7.0zM302.5,1241.9l5.6,7.0l-5.6,7.0l-5.6,-7.0zM365.7,1112.5l5.6,7.0l-5.6,7.0l-5.6,-7.0zM322.5,1075.7l5.6,7.0l-5.6,7.0l-5.6,-7.0zM268.2,1050.5l5.6,7.0l-5.6,7.0l-5.6,-7.0zM366.4,1168.2l5.6,7.0l-5.6,7.0l-5.6,-7.0zM213.6,1115.0l5.6,7.0l-5.6,7.0l-5.6,-7.0zM332.3,1040.7l5.6,7.0l-5.6,7.0l-5.6,-7.0zM198.9,1145.8l5.6,7.0l-5.6,7.0l-5.6,-7.0zM265.1,1045.4l5.6,7.0l-5.6,7.0l-5.6,-7.0zM308.2,1067.3l5.6,7.0l-5.6,7.0l-5.6,-7.0zM326.2,1232.7l5.6,7.0l-5.6,7.0l-5.6,-7.0zM195.5,1170.1l5.6,7.0l-5.6,7.0l-5.6,-7.0zM350.2,1198.5l5.6,7.0l-5.6,7.0l-5.6,-7.0zM259.0,1240.0l5.6,7.0l-5.6,7.0l-5.6,-7.0zM240.5,1097.5l5.6,7.0l-5.6,7.0l-5.6,-7.0zM317.5,1067.9l5.6,7.0l-5.6,7.0l-5.6,-7.0zM310.7,1060.5l5.6,7.0l-5.6,7.0l-5.6,-7.0zM193.4,1216.8l5.6,7.0l-5.6,7.0l-5.6,-7.0zM211.5,1112.9l5.6,7.0l-5.6,7.0l-5.6,-7.0zM268.2,1237.9l5.6,7.0l-5.6,7.0l-5.6,-7.0zM350.1,1074.4l5.6,7.0l-5.6,7.0l-5.6,-7.0zM354.8,1108.7l5.6,7.0l-5.6,7.0l-5.6,-7.0zM260.9,1050.2l5.6,7.0l-5.6,7.0l-5.6,-7.0zM301.8,1069.7l5.6,7.0l-5.6,7.0l-5.6,-7.0zM349.5,1066.0l5.6,7.0l-5.6,7.0l-5.6,-7.0zM254.1,1242.7l5.6,7.0l-5.6,7.0l-5.6,-7.0zM317.7,1079.8l5.6,7.0l-5.6,7.0l-5.6,-7.0zM201.7,1138.0l5.6,7.0l-5.6,7.0l-5.6,-7.0zM349.9,1179.3l5.6,7.0l-5.6,7.0l-5.6,-7.0zM219.7,1225.5l5.6,7.0l-5.6,7.0l-5.6,-7.0zM358.8,1165.6l5.6,7.0l-5.6,7.0l-5.6,-7.0zM323.3,1073.1l5.6,7.0l-5.6,7.0l-5.6,-7.0zM324.9,1070.9l5.6,7.0l-5.6,7.0l-5.6,-7.0zM277.6,1052.9l5.6,7.0l-5.6,7.0l-5.6,-7.0zM266.0,1064.9l5.6,7.0l-5.6,7.0l-5.6,-7.0zM330.8,1212.4l5.6,7.0l-5.6,7.0l-5.6,-7.0zM235.7,1232.4l5.6,7.0l-5.6,7.0l-5.6,-7.0zM350.8,1048.4l5.6,7.0l-5.6,7.0l-5.6,-7.0zM363.2,1135.1l5.6,7.0l-5.6,7.0l-5.6,-7.0zM186.1,1165.2l5.6,7.0l-5.6,7.0l-5.6,-7.0zM329.5,1220.4l5.6,7.0l-5.6,7.0l-5.6,-7.0zM357.3,1107.1l5.6,7.0l-5.6,7.0l-5.6,-7.0zM194.6,1176.4l5.6,7.0l-5.6,7.0l-5.6,-7.0zM356.3,1161.4l5.6,7.0l-5.6,7.0l-5.6,-7.0zM244.4,1233.2l5.6,7.0l-5.6,7.0l-5.6,-7.0zM346.7,1055.2l5.6,7.0l-5.6,7.0l-5.6,-7.0zM343.2,1051.8l5.6,7.0l-5.6,7.0l-5.6,-7.0zM259.7,1063.7l5.6,7.0l-5.6,7.0l-5.6,-7.0zM303.8,1042.9l5.6,7.0l-5.6,7.0l-5.6,-7.0zM320.8,1059.1l5.6,7.0l-5.6,7.0l-5.6,-7.0zM360.2,1168.7l5.6,7.0l-5.6,7.0l-5.6,-7.0zM367.7,1158.4l5.6,7.0l-5.6,7.0l-5.6,-7.0zM201.6,1112.7l5.6,7.0l-5.6,7.0l-5.6,-7.0zM195.8,1209.9l5.6,7.0l-5.6,7.0l-5.6,-7.0zM224.7,1109.4l5.6,7.0l-5.6,7.0l-5.6,-7.0zM356.2,1117.3l5.6,7.0l-5.6,7.0l-5.6,-7.0zM188.9,1206.8l5.6,7.0l-5.6,7.0l-5.6,-7.0zM328.5,1047.8l5.6,7.0l-5.6,7.0l-5.6,-7.0zM218.2,1223.8l5.6,7.0l-5.6,7.0l-5.6,-7.0zM345.2,1044.9l5.6,7.0l-5.6,7.0l-5.6,-7.0zM281.9,1234.0l5.6,7.0l-5.6,7.0l-5.6,-7.0zM343.2,1189.5l5.6,7.0l-5.6,7.0l-5.6,-7.0zM198.3,1190.0l5.6,7.0l-5.6,7.0l-5.6,-7.0zM222.4,1108.6l5.6,7.0l-5.6,7.0l-5.6,-7.0zM294.6,1055.7l5.6,7.0l-5.6,7.0l-5.6,-7.0zM361.2,1108.6l5.6,7.0l-5.6,7.0l-5.6,-7.0zM193.8,1163.9l5.6,7.0l-5.6,7.0l-5.6,-7.0zM187.1,1206.1l5.6,7.0l-5.6,7.0l-5.6,-7.0zM216.6,1226.1l5.6,7.0l-5.6,7.0l-5.6,-7.0zM297.9,1060.6l5.6,7.0l-5.6,7.0l-5.6,-7.0zM212.3,1116.5l5.6,7.0l-5.6,7.0l-5.6,-7.0zM194.0,1138.5l5.6,7.0l-5.6,7.0l-5.6,-7.0zM190.8,1190.5l5.6,7.0l-5.6,7.0l-5.6,-7.0zM322.9,1220.1l5.6,7.0l-5.6,7.0l-5.6,-7.0zM238.0,1110.2l5.6,7.0l-5.6,7.0l-5.6,-7.0zM321.4,1224.7l5.6,7.0l-5.6,7.0l-5.6,-7.0zM357.1,1127.1l5.6,7.0l-5.6,7.0l-5.6,-7.0zM256.9,1094.8l5.6,7.0l-5.6,7.0l-5.6,-7.0zM236.7,1233.2l5.6,7.0l-5.6,7.0l-5.6,-7.0zM362.3,1124.0l5.6,7.0l-5.6,7.0l-5.6,-7.0zM205.5,1212.9l5.6,7.0l-5.6,7.0l-5.6,-7.0zM276.8,1045.5l5.6,7.0l-5.6,7.0l-5.6,-7.0zM354.6,1076.7l5.6,7.0l-5.6,7.0l-5.6,-7.0zM266.0,1068.7l5.6,7.0l-5.6,7.0l-5.6,-7.0zM200.3,1145.4l5.6,7.0l-5.6,7.0l-5.6,-7.0zM355.6,1067.9l5.6,7.0l-5.6,7.0l-5.6,-7.0zM359.3,1106.1l5.6,7.0l-5.6,7.0l-5.6,-7.0zM214.5,1217.3l5.6,7.0l-5.6,7.0l-5.6,-7.0zM268.3,1064.8l5.6,7.0l-5.6,7.0l-5.6,-7.0zM201.1,1180.1l5.6,7.0l-5.6,7.0l-5.6,-7.0zM318.1,1080.6l5.6,7.0l-5.6,7.0l-5.6,-7.0zM192.4,1138.4l5.6,7.0l-5.6,7.0l-5.6,-7.0zM346.9,1182.0l5.6,7.0l-5.6,7.0l-5.6,-7.0zM364.0,1101.2l5.6,7.0l-5.6,7.0l-5.6,-7.0zM194.5,1194.0l5.6,7.0l-5.6,7.0l-5.6,-7.0zM264.7,1064.6l5.6,7.0l-5.6,7.0l-5.6,-7.0zM331.5,1205.8l5.6,7.0l-5.6,7.0l-5.6,-7.0zM358.9,1105.9l5.6,7.0l-5.6,7.0l-5.6,-7.0zM280.1,1053.7l5.6,7.0l-5.6,7.0l-5.6,-7.0zM344.7,1038.3l5.6,7.0l-5.6,7.0l-5.6,-7.0zM190.5,1214.1l5.6,7.0l-5.6,7.0l-5.6,-7.0zM276.7,1052.4l5.6,7.0l-5.6,7.0l-5.6,-7.0zM326.9,1040.0l5.6,7.0l-5.6,7.0l-5.6,-7.0zM339.3,1200.0l5.6,7.0l-5.6,7.0l-5.6,-7.0zM202.3,1118.6l5.6,7.0l-5.6,7.0l-5.6,-7.0zM362.4,1118.9l5.6,7.0l-5.6,7.0l-5.6,-7.0zM245.1,1240.7l5.6,7.0l-5.6,7.0l-5.6,-7.0zM188.2,1202.2l5.6,7.0l-5.6,7.0l-5.6,-7.0zM202.6,1115.7l5.6,7.0l-5.6,7.0l-5.6,-7.0zM189.8,1148.6l5.6,7.0l-5.6,7.0l-5.6,-7.0zM263.1,1239.0l5.6,7.0l-5.6,7.0l-5.6,-7.0zM196.6,1147.7l5.6,7.0l-5.6,7.0l-5.6,-7.0zM255.9,1078.8l5.6,7.0l-5.6,7.0l-5.6,-7.0zM328.9,1039.1l5.6,7.0l-5.6,7.0l-5.6,-7.0zM260.4,1086.5l5.6,7.0l-5.6,7.0l-5.6,-7.0zM254.8,1243.7l5.6,7.0l-5.6,7.0l-5.6,-7.0zM356.1,1059.2l5.6,7.0l-5.6,7.0l-5.6,-7.0zM300.6,1063.9l5.6,7.0l-5.6,7.0l-5.6,-7.0zM350.7,1075.9l5.6,7.0l-5.6,7.0l-5.6,-7.0zM323.3,1071.6l5.6,7.0l-5.6,7.0l-5.6,-7.0zM352.7,1098.7l5.6,7.0l-5.6,7.0l-5.6,-7.0zM352.9,1091.9l5.6,7.0l-5.6,7.0l-5.6,-7.0zM222.4,1115.6l5.6,7.0l-5.6,7.0l-5.6,-7.0zM225.5,1002.0l5.6,7.0l-5.6,7.0l-5.6,-7.0zM210.6,1046.6l5.6,7.0l-5.6,7.0l-5.6,-7.0zM264.1,1022.8l5.6,7.0l-5.6,7.0l-5.6,-7.0zM253.7,1015.4l5.6,7.0l-5.6,7.0l-5.6,-7.0zM91.8,1183.2l5.6,7.0l-5.6,7.0l-5.6,-7.0zM124.5,1205.5l5.6,7.0l-5.6,7.0l-5.6,-7.0zM175.0,1261.9l5.6,7.0l-5.6,7.0l-5.6,-7.0zM191.3,1250.0l5.6,7.0l-5.6,7.0l-5.6,-7.0zM216.6,1261.9l5.6,7.0l-5.6,7.0l-5.6,-7.0zM234.4,1267.8l5.6,7.0l-5.6,7.0l-5.6,-7.0zM179.4,1296.0l5.6,7.0l-5.6,7.0l-5.6,-7.0zM195.8,1306.4l5.6,7.0l-5.6,7.0l-5.6,-7.0zM278.9,1297.5l5.6,7.0l-5.6,7.0l-5.6,-7.0zM231.4,1058.4l5.6,7.0l-5.6,7.0l-5.6,-7.0zM228.4,1082.2l5.6,7.0l-5.6,7.0l-5.6,-7.0zM235.9,1108.9l5.6,7.0l-5.6,7.0l-5.6,-7.0zM192.8,1111.9l5.6,7.0l-5.6,7.0l-5.6,-7.0zM201.7,1120.8l5.6,7.0l-5.6,7.0l-5.6,-7.0zM178.0,1141.6l5.6,7.0l-5.6,7.0l-5.6,-7.0zM160.1,1162.4l5.6,7.0l-5.6,7.0l-5.6,-7.0zM154.2,1174.3l5.6,7.0l-5.6,7.0l-5.6,-7.0zM172.0,1198.0l5.6,7.0l-5.6,7.0l-5.6,-7.0zM180.9,1215.8l5.6,7.0l-5.6,7.0l-5.6,-7.0zM198.7,1212.9l5.6,7.0l-5.6,7.0l-5.6,-7.0zM219.5,1239.6l5.6,7.0l-5.6,7.0l-5.6,-7.0zM301.8,917.4l5.6,7.0l-5.6,7.0l-5.6,-7.0zM331.5,967.9l5.6,7.0l-5.6,7.0l-5.6,-7.0zM353.8,976.8l5.6,7.0l-5.6,7.0l-5.6,-7.0zM386.5,999.0l5.6,7.0l-5.6,7.0l-5.6,-7.0zM389.4,1009.4l5.6,7.0l-5.6,7.0l-5.6,-7.0zM301.8,1005.0l5.6,7.0l-5.6,7.0l-5.6,-7.0zM312.2,1022.8l5.6,7.0l-5.6,7.0l-5.6,-7.0zM420.6,1046.6l5.6,7.0l-5.6,7.0l-5.6,-7.0zM405.8,1058.4l5.6,7.0l-5.6,7.0l-5.6,-7.0zM432.5,1073.3l5.6,7.0l-5.6,7.0l-5.6,-7.0zM396.9,1079.2l5.6,7.0l-5.6,7.0l-5.6,-7.0zM420.6,1088.1l5.6,7.0l-5.6,7.0l-5.6,-7.0zM448.8,1103.0l5.6,7.0l-5.6,7.0l-5.6,-7.0zM477.0,1180.2l5.6,7.0l-5.6,7.0l-5.6,-7.0zM413.2,1141.6l5.6,7.0l-5.6,7.0l-5.6,-7.0zM420.6,1159.4l5.6,7.0l-5.6,7.0l-5.6,-7.0zM422.1,1169.8l5.6,7.0l-5.6,7.0l-5.6,-7.0zM411.7,1196.5l5.6,7.0l-5.6,7.0l-5.6,-7.0zM419.1,1229.2l5.6,7.0l-5.6,7.0l-5.6,-7.0zM398.3,1220.3l5.6,7.0l-5.6,7.0l-5.6,-7.0zM373.1,1223.3l5.6,7.0l-5.6,7.0l-5.6,-7.0zM382.0,1238.1l5.6,7.0l-5.6,7.0l-5.6,-7.0zM380.5,1201.0l5.6,7.0l-5.6,7.0l-5.6,-7.0zM376.1,1183.2l5.6,7.0l-5.6,7.0l-5.6,-7.0zM386.5,1132.7l5.6,7.0l-5.6,7.0l-5.6,-7.0zM376.1,1141.6l5.6,7.0l-5.6,7.0l-5.6,-7.0zM350.8,1224.8l5.6,7.0l-5.6,7.0l-5.6,-7.0zM347.9,1242.6l5.6,7.0l-5.6,7.0l-5.6,-7.0zM353.8,1260.4l5.6,7.0l-5.6,7.0l-5.6,-7.0zM321.1,1260.4l5.6,7.0l-5.6,7.0l-5.6,-7.0zM382.0,1028.7l5.6,7.0l-5.6,7.0l-5.6,-7.0zM370.1,1016.9l5.6,7.0l-5.6,7.0l-5.6,-7.0zM356.8,1010.9l5.6,7.0l-5.6,7.0l-5.6,-7.0zM330.0,1008.0l5.6,7.0l-5.6,7.0l-5.6,-7.0zM345.0,1012.0l5.6,7.0l-5.6,7.0l-5.6,-7.0zM358.0,1019.0l5.6,7.0l-5.6,7.0l-5.6,-7.0zM368.0,1027.0l5.6,7.0l-5.6,7.0l-5.6,-7.0zM378.0,1037.0l5.6,7.0l-5.6,7.0l-5.6,-7.0zM338.0,1024.0l5.6,7.0l-5.6,7.0l-5.6,-7.0zM322.0,1020.0l5.6,7.0l-5.6,7.0l-5.6,-7.0zM312.0,1033.0l5.6,7.0l-5.6,7.0l-5.6,-7.0zM362.0,1039.0l5.6,7.0l-5.6,7.0l-5.6,-7.0zM373.0,1051.0l5.6,7.0l-5.6,7.0l-5.6,-7.0zM268.0,1033.0l5.6,7.0l-5.6,7.0l-5.6,-7.0zM278.0,1026.0l5.6,7.0l-5.6,7.0l-5.6,-7.0zM290.0,1034.0l5.6,7.0l-5.6,7.0l-5.6,-7.0zM300.0,1031.0l5.6,7.0l-5.6,7.0l-5.6,-7.0zM258.0,1013.0l5.6,7.0l-5.6,7.0l-5.6,-7.0zM248.0,1033.0l5.6,7.0l-5.6,7.0l-5.6,-7.0zM240.0,1043.0l5.6,7.0l-5.6,7.0l-5.6,-7.0zM226.0,1091.0l5.6,7.0l-5.6,7.0l-5.6,-7.0zM205.0,1098.0l5.6,7.0l-5.6,7.0l-5.6,-7.0zM196.0,1093.0l5.6,7.0l-5.6,7.0l-5.6,-7.0zM183.0,1128.0l5.6,7.0l-5.6,7.0l-5.6,-7.0zM181.0,1153.0l5.6,7.0l-5.6,7.0l-5.6,-7.0zM373.1,1031.7l5.6,7.0l-5.6,7.0l-5.6,-7.0zM379.0,1043.6l5.6,7.0l-5.6,7.0l-5.6,-7.0zM382.0,1055.5l5.6,7.0l-5.6,7.0l-5.6,-7.0zM388.0,1067.4l5.6,7.0l-5.6,7.0l-5.6,-7.0zM390.9,1082.2l5.6,7.0l-5.6,7.0l-5.6,-7.0zM385.0,1094.1l5.6,7.0l-5.6,7.0l-5.6,-7.0zM373.1,1082.2l5.6,7.0l-5.6,7.0l-5.6,-7.0zM367.2,1064.4l5.6,7.0l-5.6,7.0l-5.6,-7.0zM361.2,1052.5l5.6,7.0l-5.6,7.0l-5.6,-7.0zM355.3,1040.6l5.6,7.0l-5.6,7.0l-5.6,-7.0z" fill="none" stroke="#000" stroke-width="3.4" stroke-linejoin="round"/>
<g fill="#fff"><circle cx="272.1" cy="1076.3" r="3.1"/><circle cx="281.6" cy="1071.9" r="3.1"/><circle cx="275.5" cy="1082.2" r="3.1"/><circle cx="289.9" cy="1086.8" r="3.1"/><circle cx="302.2" cy="1097.6" r="3.1"/><circle cx="320.2" cy="1101.4" r="3.1"/><circle cx="327.1" cy="1104.4" r="3.1"/><circle cx="342.1" cy="1100.9" r="3.1"/><circle cx="238.7" cy="1121.0" r="3.1"/><circle cx="262.4" cy="1113.6" r="3.1"/><circle cx="307.8" cy="1115.7" r="3.1"/><circle cx="317.1" cy="1120.7" r="3.1"/><circle cx="336.7" cy="1116.6" r="3.1"/><circle cx="209.1" cy="1130.5" r="3.1"/><circle cx="224.3" cy="1138.7" r="3.1"/><circle cx="265.9" cy="1129.3" r="3.1"/><circle cx="288.0" cy="1134.5" r="3.1"/><circle cx="302.9" cy="1137.8" r="3.1"/><circle cx="238.3" cy="1146.8" r="3.1"/><circle cx="290.3" cy="1152.4" r="3.1"/><circle cx="321.6" cy="1149.9" r="3.1"/><circle cx="329.4" cy="1148.4" r="3.1"/><circle cx="346.1" cy="1154.2" r="3.1"/><circle cx="204.6" cy="1166.4" r="3.1"/><circle cx="214.1" cy="1161.8" r="3.1"/><circle cx="230.0" cy="1163.3" r="3.1"/><circle cx="276.6" cy="1164.4" r="3.1"/><circle cx="296.8" cy="1168.2" r="3.1"/><circle cx="309.6" cy="1160.5" r="3.1"/><circle cx="319.0" cy="1164.4" r="3.1"/><circle cx="339.2" cy="1163.9" r="3.1"/><circle cx="219.9" cy="1176.4" r="3.1"/><circle cx="251.2" cy="1176.5" r="3.1"/><circle cx="284.4" cy="1181.8" r="3.1"/><circle cx="296.1" cy="1180.5" r="3.1"/><circle cx="316.5" cy="1183.7" r="3.1"/><circle cx="231.7" cy="1194.5" r="3.1"/><circle cx="241.1" cy="1196.2" r="3.1"/><circle cx="260.7" cy="1201.2" r="3.1"/><circle cx="275.1" cy="1195.1" r="3.1"/><circle cx="297.0" cy="1197.0" r="3.1"/><circle cx="306.9" cy="1193.3" r="3.1"/><circle cx="231.8" cy="1213.6" r="3.1"/><circle cx="250.1" cy="1215.0" r="3.1"/><circle cx="272.4" cy="1206.9" r="3.1"/><circle cx="306.9" cy="1208.6" r="3.1"/><circle cx="319.6" cy="1214.9" r="3.1"/><circle cx="225.3" cy="1227.4" r="3.1"/><circle cx="234.6" cy="1225.2" r="3.1"/><circle cx="258.2" cy="1221.7" r="3.1"/><circle cx="285.4" cy="1227.8" r="3.1"/><circle cx="297.8" cy="1228.4" r="3.1"/></g>
<path d="M330.3,1071.7l6.4,-6.4M318.3,1088.1l6.4,6.4M332.3,1089.4l6.4,6.4M267.3,1103.8l6.4,6.4M276.8,1103.9l6.4,6.4M272.2,1117.9l6.4,-6.4M288.7,1118.9l6.4,-6.4M231.1,1137.1l6.4,-6.4M252.8,1131.8l6.4,-6.4M313.8,1137.1l6.4,-6.4M323.5,1142.0l6.4,-6.4M346.5,1126.0l6.4,6.4M211.8,1150.8l6.4,-6.4M220.1,1148.3l6.4,6.4M249.1,1156.6l6.4,-6.4M270.7,1147.5l6.4,-6.4M295.2,1143.9l6.4,6.4M241.6,1172.0l6.4,-6.4M256.3,1165.8l6.4,-6.4M206.6,1180.9l6.4,6.4M236.1,1181.9l6.4,6.4M268.1,1175.0l6.4,6.4M326.9,1183.7l6.4,-6.4M341.2,1178.5l6.4,-6.4M210.1,1194.6l6.4,6.4M320.0,1198.6l6.4,-6.4M210.3,1210.1l6.4,-6.4M253.1,1215.3l6.4,-6.4M292.7,1207.2l6.4,6.4M270.7,1226.9l6.4,6.4M313.0,1222.2l6.4,6.4" stroke="#fff" stroke-width="4.8" stroke-linecap="round" fill="none"/>
<polyline points="90.3,1218.4 124.5,1205.0 154.2,1193.2 192.8,1181.3 222.5,1172.4 258.1,1157.5 299.7,1148.6 335.4,1139.7 371.0,1124.8 400.7,1115.9 430.4,1113.0 473.5,1107.0" fill="none" stroke="#e24c6c" stroke-width="3.3" stroke-linejoin="round"/>
</g>
<g clip-path="url(#sc32)">
<polygon points="597.5,1232.5 597.5,1245.0 604.7,1251.0 607.2,1251.5 610.4,1245.2 610.9,1244.4 611.4,1243.6 620.4,1232.6 621.0,1232.0 621.7,1231.4 622.4,1230.8 623.2,1230.4 639.2,1222.4 639.4,1222.3 651.8,1216.6 670.2,1204.0 670.9,1203.5 671.7,1203.2 672.5,1202.9 673.3,1202.7 674.2,1202.5 675.0,1202.5 689.5,1202.5 699.7,1195.9 702.6,1178.6 702.8,1177.8 703.1,1176.9 703.4,1176.1 703.9,1175.4 704.4,1174.7 716.4,1159.7 716.9,1159.0 717.6,1158.4 718.3,1157.9 719.1,1157.5 719.9,1157.1 734.6,1151.3 737.7,1136.3 737.9,1135.4 738.2,1134.6 738.6,1133.8 739.1,1133.0 739.7,1132.3 740.3,1131.7 741.0,1131.1 755.3,1120.7 773.7,1100.3 774.4,1099.6 786.5,1089.1 786.5,1078.9 779.3,1063.6 767.8,1055.5 752.9,1055.5 742.3,1060.4 730.7,1084.7 730.2,1085.5 729.6,1086.3 729.0,1087.0 718.7,1097.3 715.8,1109.9 715.5,1110.7 715.2,1111.5 714.9,1112.2 714.4,1112.9 713.9,1113.6 713.3,1114.2 712.7,1114.7 693.2,1129.7 692.6,1130.2 692.0,1130.5 691.3,1130.8 672.3,1138.8 672.2,1138.9 658.7,1144.5 654.0,1157.0 653.6,1157.8 653.2,1158.5 652.7,1159.2 652.2,1159.8 651.6,1160.4 651.0,1160.9 650.3,1161.4 634.7,1170.3 631.9,1187.4 631.7,1188.3 631.4,1189.1 631.0,1190.0 630.6,1190.7 630.0,1191.4 629.4,1192.1 614.6,1206.4 597.5,1232.5" fill="#000" stroke="#000" stroke-width="3" stroke-linejoin="round"/>
<path d="M732.6,1078.6l5.6,7.0l-5.6,7.0l-5.6,-7.0zM724.3,1151.3l5.6,7.0l-5.6,7.0l-5.6,-7.0zM738.5,1137.0l5.6,7.0l-5.6,7.0l-5.6,-7.0zM706.4,1183.1l5.6,7.0l-5.6,7.0l-5.6,-7.0zM675.9,1197.1l5.6,7.0l-5.6,7.0l-5.6,-7.0zM784.4,1073.6l5.6,7.0l-5.6,7.0l-5.6,-7.0zM749.0,1132.0l5.6,7.0l-5.6,7.0l-5.6,-7.0zM792.5,1079.7l5.6,7.0l-5.6,7.0l-5.6,-7.0zM678.9,1204.3l5.6,7.0l-5.6,7.0l-5.6,-7.0zM760.6,1041.6l5.6,7.0l-5.6,7.0l-5.6,-7.0zM752.7,1044.0l5.6,7.0l-5.6,7.0l-5.6,-7.0zM708.6,1174.8l5.6,7.0l-5.6,7.0l-5.6,-7.0zM699.5,1193.7l5.6,7.0l-5.6,7.0l-5.6,-7.0zM711.7,1154.7l5.6,7.0l-5.6,7.0l-5.6,-7.0zM664.8,1204.8l5.6,7.0l-5.6,7.0l-5.6,-7.0zM717.2,1103.5l5.6,7.0l-5.6,7.0l-5.6,-7.0zM700.2,1196.8l5.6,7.0l-5.6,7.0l-5.6,-7.0zM715.2,1105.9l5.6,7.0l-5.6,7.0l-5.6,-7.0zM628.1,1222.1l5.6,7.0l-5.6,7.0l-5.6,-7.0zM600.1,1211.9l5.6,7.0l-5.6,7.0l-5.6,-7.0zM620.5,1185.0l5.6,7.0l-5.6,7.0l-5.6,-7.0zM591.5,1244.5l5.6,7.0l-5.6,7.0l-5.6,-7.0zM699.7,1179.7l5.6,7.0l-5.6,7.0l-5.6,-7.0zM696.7,1196.3l5.6,7.0l-5.6,7.0l-5.6,-7.0zM732.7,1147.1l5.6,7.0l-5.6,7.0l-5.6,-7.0zM799.3,1079.0l5.6,7.0l-5.6,7.0l-5.6,-7.0zM599.8,1244.9l5.6,7.0l-5.6,7.0l-5.6,-7.0zM699.2,1177.7l5.6,7.0l-5.6,7.0l-5.6,-7.0zM652.5,1136.1l5.6,7.0l-5.6,7.0l-5.6,-7.0zM704.9,1185.0l5.6,7.0l-5.6,7.0l-5.6,-7.0zM699.5,1187.1l5.6,7.0l-5.6,7.0l-5.6,-7.0zM777.0,1095.5l5.6,7.0l-5.6,7.0l-5.6,-7.0zM609.0,1239.4l5.6,7.0l-5.6,7.0l-5.6,-7.0zM604.0,1218.1l5.6,7.0l-5.6,7.0l-5.6,-7.0zM754.7,1046.7l5.6,7.0l-5.6,7.0l-5.6,-7.0zM661.0,1205.5l5.6,7.0l-5.6,7.0l-5.6,-7.0zM708.1,1162.3l5.6,7.0l-5.6,7.0l-5.6,-7.0zM684.5,1206.9l5.6,7.0l-5.6,7.0l-5.6,-7.0zM762.4,1124.9l5.6,7.0l-5.6,7.0l-5.6,-7.0zM642.5,1144.3l5.6,7.0l-5.6,7.0l-5.6,-7.0zM693.4,1195.3l5.6,7.0l-5.6,7.0l-5.6,-7.0zM757.5,1045.5l5.6,7.0l-5.6,7.0l-5.6,-7.0zM626.7,1235.5l5.6,7.0l-5.6,7.0l-5.6,-7.0zM647.1,1137.8l5.6,7.0l-5.6,7.0l-5.6,-7.0zM783.0,1062.4l5.6,7.0l-5.6,7.0l-5.6,-7.0zM608.4,1208.0l5.6,7.0l-5.6,7.0l-5.6,-7.0zM626.9,1171.1l5.6,7.0l-5.6,7.0l-5.6,-7.0zM621.7,1195.9l5.6,7.0l-5.6,7.0l-5.6,-7.0zM735.9,1137.8l5.6,7.0l-5.6,7.0l-5.6,-7.0zM782.8,1086.3l5.6,7.0l-5.6,7.0l-5.6,-7.0zM713.3,1178.1l5.6,7.0l-5.6,7.0l-5.6,-7.0zM762.4,1049.7l5.6,7.0l-5.6,7.0l-5.6,-7.0zM741.5,1126.9l5.6,7.0l-5.6,7.0l-5.6,-7.0zM703.6,1110.8l5.6,7.0l-5.6,7.0l-5.6,-7.0zM590.9,1217.0l5.6,7.0l-5.6,7.0l-5.6,-7.0zM734.9,1066.3l5.6,7.0l-5.6,7.0l-5.6,-7.0zM711.8,1111.2l5.6,7.0l-5.6,7.0l-5.6,-7.0zM594.9,1219.7l5.6,7.0l-5.6,7.0l-5.6,-7.0zM644.6,1156.9l5.6,7.0l-5.6,7.0l-5.6,-7.0zM597.2,1227.8l5.6,7.0l-5.6,7.0l-5.6,-7.0zM766.5,1035.5l5.6,7.0l-5.6,7.0l-5.6,-7.0zM640.5,1157.3l5.6,7.0l-5.6,7.0l-5.6,-7.0zM601.1,1240.0l5.6,7.0l-5.6,7.0l-5.6,-7.0zM687.4,1208.7l5.6,7.0l-5.6,7.0l-5.6,-7.0zM796.0,1069.1l5.6,7.0l-5.6,7.0l-5.6,-7.0zM598.6,1247.5l5.6,7.0l-5.6,7.0l-5.6,-7.0zM712.6,1109.9l5.6,7.0l-5.6,7.0l-5.6,-7.0zM786.4,1080.4l5.6,7.0l-5.6,7.0l-5.6,-7.0zM587.3,1231.7l5.6,7.0l-5.6,7.0l-5.6,-7.0zM664.0,1200.2l5.6,7.0l-5.6,7.0l-5.6,-7.0zM733.1,1157.2l5.6,7.0l-5.6,7.0l-5.6,-7.0zM693.3,1118.8l5.6,7.0l-5.6,7.0l-5.6,-7.0zM599.0,1221.5l5.6,7.0l-5.6,7.0l-5.6,-7.0zM628.2,1173.7l5.6,7.0l-5.6,7.0l-5.6,-7.0zM657.6,1206.4l5.6,7.0l-5.6,7.0l-5.6,-7.0zM658.2,1138.6l5.6,7.0l-5.6,7.0l-5.6,-7.0zM609.8,1256.3l5.6,7.0l-5.6,7.0l-5.6,-7.0zM596.4,1218.1l5.6,7.0l-5.6,7.0l-5.6,-7.0zM626.8,1189.2l5.6,7.0l-5.6,7.0l-5.6,-7.0zM599.4,1203.1l5.6,7.0l-5.6,7.0l-5.6,-7.0zM624.3,1227.1l5.6,7.0l-5.6,7.0l-5.6,-7.0zM607.2,1251.3l5.6,7.0l-5.6,7.0l-5.6,-7.0zM741.2,1144.0l5.6,7.0l-5.6,7.0l-5.6,-7.0zM721.0,1151.5l5.6,7.0l-5.6,7.0l-5.6,-7.0zM699.4,1188.9l5.6,7.0l-5.6,7.0l-5.6,-7.0zM747.3,1125.0l5.6,7.0l-5.6,7.0l-5.6,-7.0zM653.6,1208.5l5.6,7.0l-5.6,7.0l-5.6,-7.0zM717.2,1094.4l5.6,7.0l-5.6,7.0l-5.6,-7.0zM758.4,1046.9l5.6,7.0l-5.6,7.0l-5.6,-7.0zM737.4,1132.9l5.6,7.0l-5.6,7.0l-5.6,-7.0zM725.6,1157.0l5.6,7.0l-5.6,7.0l-5.6,-7.0zM700.8,1101.3l5.6,7.0l-5.6,7.0l-5.6,-7.0zM627.2,1175.3l5.6,7.0l-5.6,7.0l-5.6,-7.0zM622.4,1224.6l5.6,7.0l-5.6,7.0l-5.6,-7.0zM752.1,1124.2l5.6,7.0l-5.6,7.0l-5.6,-7.0zM647.0,1215.6l5.6,7.0l-5.6,7.0l-5.6,-7.0zM732.7,1145.2l5.6,7.0l-5.6,7.0l-5.6,-7.0zM790.3,1083.5l5.6,7.0l-5.6,7.0l-5.6,-7.0zM625.1,1219.9l5.6,7.0l-5.6,7.0l-5.6,-7.0zM741.9,1049.0l5.6,7.0l-5.6,7.0l-5.6,-7.0zM599.9,1216.8l5.6,7.0l-5.6,7.0l-5.6,-7.0zM658.0,1135.1l5.6,7.0l-5.6,7.0l-5.6,-7.0zM622.0,1192.4l5.6,7.0l-5.6,7.0l-5.6,-7.0zM614.0,1234.9l5.6,7.0l-5.6,7.0l-5.6,-7.0zM704.9,1167.9l5.6,7.0l-5.6,7.0l-5.6,-7.0zM601.6,1256.8l5.6,7.0l-5.6,7.0l-5.6,-7.0zM612.6,1241.8l5.6,7.0l-5.6,7.0l-5.6,-7.0zM662.9,1206.9l5.6,7.0l-5.6,7.0l-5.6,-7.0zM710.3,1102.2l5.6,7.0l-5.6,7.0l-5.6,-7.0zM628.0,1152.1l5.6,7.0l-5.6,7.0l-5.6,-7.0zM714.0,1160.1l5.6,7.0l-5.6,7.0l-5.6,-7.0zM798.6,1084.0l5.6,7.0l-5.6,7.0l-5.6,-7.0zM684.2,1199.5l5.6,7.0l-5.6,7.0l-5.6,-7.0zM642.7,1160.3l5.6,7.0l-5.6,7.0l-5.6,-7.0zM772.2,1053.3l5.6,7.0l-5.6,7.0l-5.6,-7.0zM595.0,1227.9l5.6,7.0l-5.6,7.0l-5.6,-7.0zM598.2,1243.0l5.6,7.0l-5.6,7.0l-5.6,-7.0zM651.1,1211.4l5.6,7.0l-5.6,7.0l-5.6,-7.0zM688.0,1200.3l5.6,7.0l-5.6,7.0l-5.6,-7.0zM619.5,1237.5l5.6,7.0l-5.6,7.0l-5.6,-7.0zM605.3,1241.5l5.6,7.0l-5.6,7.0l-5.6,-7.0zM761.5,1105.0l5.6,7.0l-5.6,7.0l-5.6,-7.0zM754.7,1125.0l5.6,7.0l-5.6,7.0l-5.6,-7.0zM714.4,1079.5l5.6,7.0l-5.6,7.0l-5.6,-7.0zM765.8,1046.6l5.6,7.0l-5.6,7.0l-5.6,-7.0zM740.9,1123.3l5.6,7.0l-5.6,7.0l-5.6,-7.0zM629.6,1223.7l5.6,7.0l-5.6,7.0l-5.6,-7.0zM756.2,1127.0l5.6,7.0l-5.6,7.0l-5.6,-7.0zM678.1,1126.5l5.6,7.0l-5.6,7.0l-5.6,-7.0zM701.2,1200.0l5.6,7.0l-5.6,7.0l-5.6,-7.0zM743.2,1150.1l5.6,7.0l-5.6,7.0l-5.6,-7.0zM770.2,1093.9l5.6,7.0l-5.6,7.0l-5.6,-7.0zM619.5,1243.1l5.6,7.0l-5.6,7.0l-5.6,-7.0zM671.7,1199.5l5.6,7.0l-5.6,7.0l-5.6,-7.0zM682.9,1199.7l5.6,7.0l-5.6,7.0l-5.6,-7.0zM764.4,1106.2l5.6,7.0l-5.6,7.0l-5.6,-7.0zM620.8,1192.9l5.6,7.0l-5.6,7.0l-5.6,-7.0zM607.3,1239.8l5.6,7.0l-5.6,7.0l-5.6,-7.0zM688.9,1119.1l5.6,7.0l-5.6,7.0l-5.6,-7.0zM629.2,1224.9l5.6,7.0l-5.6,7.0l-5.6,-7.0zM733.0,1066.4l5.6,7.0l-5.6,7.0l-5.6,-7.0zM615.8,1183.5l5.6,7.0l-5.6,7.0l-5.6,-7.0zM664.7,917.4l5.6,7.0l-5.6,7.0l-5.6,-7.0zM609.8,1055.5l5.6,7.0l-5.6,7.0l-5.6,-7.0zM660.3,1065.9l5.6,7.0l-5.6,7.0l-5.6,-7.0zM684.0,1055.5l5.6,7.0l-5.6,7.0l-5.6,-7.0zM690.0,1086.7l5.6,7.0l-5.6,7.0l-5.6,-7.0zM559.3,1157.9l5.6,7.0l-5.6,7.0l-5.6,-7.0zM568.2,1184.7l5.6,7.0l-5.6,7.0l-5.6,-7.0zM578.6,1205.5l5.6,7.0l-5.6,7.0l-5.6,-7.0zM609.8,1172.8l5.6,7.0l-5.6,7.0l-5.6,-7.0zM599.4,1193.6l5.6,7.0l-5.6,7.0l-5.6,-7.0zM626.1,1125.3l5.6,7.0l-5.6,7.0l-5.6,-7.0zM645.4,1128.2l5.6,7.0l-5.6,7.0l-5.6,-7.0zM669.2,1108.9l5.6,7.0l-5.6,7.0l-5.6,-7.0zM678.1,1235.2l5.6,7.0l-5.6,7.0l-5.6,-7.0zM636.5,1245.5l5.6,7.0l-5.6,7.0l-5.6,-7.0zM609.8,1270.8l5.6,7.0l-5.6,7.0l-5.6,-7.0zM603.9,1257.4l5.6,7.0l-5.6,7.0l-5.6,-7.0zM504.4,1297.5l5.6,7.0l-5.6,7.0l-5.6,-7.0zM520.7,1306.4l5.6,7.0l-5.6,7.0l-5.6,-7.0zM551.9,1263.4l5.6,7.0l-5.6,7.0l-5.6,-7.0zM562.3,1239.6l5.6,7.0l-5.6,7.0l-5.6,-7.0zM580.1,1227.7l5.6,7.0l-5.6,7.0l-5.6,-7.0zM580.1,1254.5l5.6,7.0l-5.6,7.0l-5.6,-7.0zM730.7,967.9l5.6,7.0l-5.6,7.0l-5.6,-7.0zM836.1,976.8l5.6,7.0l-5.6,7.0l-5.6,-7.0zM898.5,1129.7l5.6,7.0l-5.6,7.0l-5.6,-7.0zM763.4,1214.4l5.6,7.0l-5.6,7.0l-5.6,-7.0zM756.0,1192.1l5.6,7.0l-5.6,7.0l-5.6,-7.0zM756.0,1156.5l5.6,7.0l-5.6,7.0l-5.6,-7.0zM730.7,1177.2l5.6,7.0l-5.6,7.0l-5.6,-7.0zM718.8,1183.2l5.6,7.0l-5.6,7.0l-5.6,-7.0zM805.0,1111.9l5.6,7.0l-5.6,7.0l-5.6,-7.0zM790.1,1103.0l5.6,7.0l-5.6,7.0l-5.6,-7.0zM802.0,1082.2l5.6,7.0l-5.6,7.0l-5.6,-7.0zM864.4,1034.7l5.6,7.0l-5.6,7.0l-5.6,-7.0zM862.9,1002.0l5.6,7.0l-5.6,7.0l-5.6,-7.0zM846.5,1022.8l5.6,7.0l-5.6,7.0l-5.6,-7.0zM830.2,1049.5l5.6,7.0l-5.6,7.0l-5.6,-7.0zM813.9,1052.5l5.6,7.0l-5.6,7.0l-5.6,-7.0zM790.1,1013.9l5.6,7.0l-5.6,7.0l-5.6,-7.0zM766.3,1019.8l5.6,7.0l-5.6,7.0l-5.6,-7.0zM754.5,1025.8l5.6,7.0l-5.6,7.0l-5.6,-7.0zM810.9,999.0l5.6,7.0l-5.6,7.0l-5.6,-7.0zM831.7,999.0l5.6,7.0l-5.6,7.0l-5.6,-7.0zM775.3,1129.7l5.6,7.0l-5.6,7.0l-5.6,-7.0zM750.0,1132.7l5.6,7.0l-5.6,7.0l-5.6,-7.0zM800.0,1033.0l5.6,7.0l-5.6,7.0l-5.6,-7.0zM812.0,1023.0l5.6,7.0l-5.6,7.0l-5.6,-7.0zM822.0,1015.0l5.6,7.0l-5.6,7.0l-5.6,-7.0zM835.0,1008.0l5.6,7.0l-5.6,7.0l-5.6,-7.0zM845.0,998.0l5.6,7.0l-5.6,7.0l-5.6,-7.0zM855.0,993.0l5.6,7.0l-5.6,7.0l-5.6,-7.0zM828.0,1033.0l5.6,7.0l-5.6,7.0l-5.6,-7.0zM840.0,1038.0l5.6,7.0l-5.6,7.0l-5.6,-7.0zM806.0,1053.0l5.6,7.0l-5.6,7.0l-5.6,-7.0zM800.0,1093.0l5.6,7.0l-5.6,7.0l-5.6,-7.0zM812.0,1083.0l5.6,7.0l-5.6,7.0l-5.6,-7.0zM818.0,1073.0l5.6,7.0l-5.6,7.0l-5.6,-7.0zM575.0,1243.0l5.6,7.0l-5.6,7.0l-5.6,-7.0zM583.0,1255.0l5.6,7.0l-5.6,7.0l-5.6,-7.0zM595.0,1265.0l5.6,7.0l-5.6,7.0l-5.6,-7.0zM566.0,1255.0l5.6,7.0l-5.6,7.0l-5.6,-7.0zM560.0,1268.0l5.6,7.0l-5.6,7.0l-5.6,-7.0zM598.0,1233.0l5.6,7.0l-5.6,7.0l-5.6,-7.0zM620.0,1158.0l5.6,7.0l-5.6,7.0l-5.6,-7.0zM632.0,1143.0l5.6,7.0l-5.6,7.0l-5.6,-7.0zM655.0,1118.0l5.6,7.0l-5.6,7.0l-5.6,-7.0zM670.0,1110.0l5.6,7.0l-5.6,7.0l-5.6,-7.0zM700.0,1088.0l5.6,7.0l-5.6,7.0l-5.6,-7.0zM712.0,1065.0l5.6,7.0l-5.6,7.0l-5.6,-7.0zM725.0,1058.0l5.6,7.0l-5.6,7.0l-5.6,-7.0z" fill="none" stroke="#000" stroke-width="3.4" stroke-linejoin="round"/>
<g fill="#fff"><circle cx="772.4" cy="1069.7" r="3.1"/><circle cx="742.8" cy="1102.9" r="3.1"/><circle cx="710.2" cy="1121.5" r="3.1"/><circle cx="723.8" cy="1120.6" r="3.1"/><circle cx="663.1" cy="1150.5" r="3.1"/><circle cx="698.4" cy="1141.2" r="3.1"/><circle cx="680.1" cy="1164.7" r="3.1"/><circle cx="637.2" cy="1192.5" r="3.1"/><circle cx="637.2" cy="1218.1" r="3.1"/></g>
<path d="M741.6,1071.1l6.4,-6.4M753.2,1091.9l6.4,6.4M685.3,1143.5l6.4,6.4M654.7,1162.6l6.4,-6.4M662.7,1191.2l6.4,6.4M680.5,1186.7l6.4,-6.4M655.3,1205.1l6.4,6.4" stroke="#fff" stroke-width="4.8" stroke-linecap="round" fill="none"/>
<polyline points="508.8,1314.9 560.0,1269.5 609.8,1225.8 681.1,1163.5 740.0,1115.7 788.3,1072.2 836.5,1025.2 895.1,974.5" fill="none" stroke="#e24c6c" stroke-width="3.3" stroke-linejoin="round"/>
</g>
<line x1="74.2" y1="71.75" x2="74.2" y2="1330.25" stroke="#000" stroke-width="4.9"/>
<line x1="491.0" y1="71.75" x2="491.0" y2="1330.25" stroke="#000" stroke-width="4.9"/>
<line x1="912.0" y1="71.75" x2="912.0" y2="1330.25" stroke="#000" stroke-width="4.9"/>
<line x1="1329.3" y1="71.75" x2="1329.3" y2="1330.25" stroke="#000" stroke-width="4.9"/>
<line x1="71.75" y1="74.2" x2="1331.75" y2="74.2" stroke="#000" stroke-width="4.9"/>
<line x1="71.75" y1="494.8" x2="1331.75" y2="494.8" stroke="#000" stroke-width="4.9"/>
<line x1="71.75" y1="911.2" x2="1331.75" y2="911.2" stroke="#000" stroke-width="4.9"/>
<line x1="71.75" y1="1327.8" x2="1331.75" y2="1327.8" stroke="#000" stroke-width="4.9"/>
<line x1="503.3" y1="58" x2="503.3" y2="74" stroke="#000" stroke-width="4.0" stroke-linecap="round"/>
<line x1="563.2" y1="58" x2="563.2" y2="74" stroke="#000" stroke-width="4.0" stroke-linecap="round"/>
<line x1="618.8" y1="58" x2="618.8" y2="74" stroke="#000" stroke-width="4.0" stroke-linecap="round"/>
<line x1="677.8" y1="58" x2="677.8" y2="74" stroke="#000" stroke-width="4.0" stroke-linecap="round"/>
<line x1="737.1" y1="58" x2="737.1" y2="74" stroke="#000" stroke-width="4.0" stroke-linecap="round"/>
<line x1="793" y1="58" x2="793" y2="74" stroke="#000" stroke-width="4.0" stroke-linecap="round"/>
<line x1="857.3" y1="58" x2="857.3" y2="74" stroke="#000" stroke-width="4.0" stroke-linecap="round"/>
<text transform="translate(503.3,31.6) scale(1.1,1)" x="-1.2" y="0" font-family="Liberation Sans" font-weight="bold" font-size="36" fill="#000" text-anchor="middle" style="letter-spacing:-2.5px">2.0</text>
<text transform="translate(618.8,31.6) scale(1.1,1)" x="-1.2" y="0" font-family="Liberation Sans" font-weight="bold" font-size="36" fill="#000" text-anchor="middle" style="letter-spacing:-2.5px">3.0</text>
<text transform="translate(737.1,31.6) scale(1.1,1)" x="-1.2" y="0" font-family="Liberation Sans" font-weight="bold" font-size="36" fill="#000" text-anchor="middle" style="letter-spacing:-2.5px">4.0</text>
<text transform="translate(857.3,31.6) scale(1.1,1)" x="-1.2" y="0" font-family="Liberation Sans" font-weight="bold" font-size="36" fill="#000" text-anchor="middle" style="letter-spacing:-2.5px">5.0</text>
<line x1="1329" y1="87.4" x2="1349" y2="87.4" stroke="#000" stroke-width="4.0" stroke-linecap="round"/>
<line x1="1329" y1="165.8" x2="1349" y2="165.8" stroke="#000" stroke-width="4.0" stroke-linecap="round"/>
<line x1="1329" y1="247.3" x2="1349" y2="247.3" stroke="#000" stroke-width="4.0" stroke-linecap="round"/>
<line x1="1329" y1="329.4" x2="1349" y2="329.4" stroke="#000" stroke-width="4.0" stroke-linecap="round"/>
<line x1="1329" y1="407.5" x2="1349" y2="407.5" stroke="#000" stroke-width="4.0" stroke-linecap="round"/>
<line x1="1329" y1="490.3" x2="1349" y2="490.3" stroke="#000" stroke-width="4.0" stroke-linecap="round"/>
<text transform="translate(1400.8,85.4) rotate(-90) scale(1.1,1)" x="0" y="0" font-family="Liberation Sans" font-weight="bold" font-size="36" fill="#000" text-anchor="middle">9</text>
<text transform="translate(1400.8,163.8) rotate(-90) scale(1.1,1)" x="0" y="0" font-family="Liberation Sans" font-weight="bold" font-size="36" fill="#000" text-anchor="middle">8</text>
<text transform="translate(1400.8,245.3) rotate(-90) scale(1.1,1)" x="0" y="0" font-family="Liberation Sans" font-weight="bold" font-size="36" fill="#000" text-anchor="middle">7</text>
<text transform="translate(1400.8,327.4) rotate(-90) scale(1.1,1)" x="0" y="0" font-family="Liberation Sans" font-weight="bold" font-size="36" fill="#000" text-anchor="middle">6</text>
<text transform="translate(1400.8,405.5) rotate(-90) scale(1.1,1)" x="0" y="0" font-family="Liberation Sans" font-weight="bold" font-size="36" fill="#000" text-anchor="middle">5</text>
<text transform="translate(1400.8,488.3) rotate(-90) scale(1.1,1)" x="0" y="0" font-family="Liberation Sans" font-weight="bold" font-size="36" fill="#000" text-anchor="middle">4</text>
<line x1="59" y1="548.5" x2="74" y2="548.5" stroke="#000" stroke-width="4.0" stroke-linecap="round"/>
<line x1="59" y1="608.2" x2="74" y2="608.2" stroke="#000" stroke-width="4.0" stroke-linecap="round"/>
<line x1="59" y1="667.3" x2="74" y2="667.3" stroke="#000" stroke-width="4.0" stroke-linecap="round"/>
<line x1="59" y1="723.3" x2="74" y2="723.3" stroke="#000" stroke-width="4.0" stroke-linecap="round"/>
<line x1="59" y1="782.5" x2="74" y2="782.5" stroke="#000" stroke-width="4.0" stroke-linecap="round"/>
<line x1="59" y1="840" x2="74" y2="840" stroke="#000" stroke-width="4.0" stroke-linecap="round"/>
<line x1="59" y1="901.3" x2="74" y2="901.3" stroke="#000" stroke-width="4.0" stroke-linecap="round"/>
<text transform="translate(31.4,548.5) rotate(-90) scale(1.1,1)" x="-1.2" y="0" font-family="Liberation Sans" font-weight="bold" font-size="36" fill="#000" text-anchor="middle" style="letter-spacing:-2.5px">5.0</text>
<text transform="translate(31.4,667.3) rotate(-90) scale(1.1,1)" x="-1.2" y="0" font-family="Liberation Sans" font-weight="bold" font-size="36" fill="#000" text-anchor="middle" style="letter-spacing:-2.5px">4.0</text>
<text transform="translate(31.4,782.5) rotate(-90) scale(1.1,1)" x="-1.2" y="0" font-family="Liberation Sans" font-weight="bold" font-size="36" fill="#000" text-anchor="middle" style="letter-spacing:-2.5px">3.0</text>
<text transform="translate(31.4,901.3) rotate(-90) scale(1.1,1)" x="-1.2" y="0" font-family="Liberation Sans" font-weight="bold" font-size="36" fill="#000" text-anchor="middle" style="letter-spacing:-2.5px">2.0</text>
<line x1="1329" y1="961.6" x2="1349" y2="961.6" stroke="#000" stroke-width="4.0" stroke-linecap="round"/>
<line x1="1329" y1="1038.6" x2="1349" y2="1038.6" stroke="#000" stroke-width="4.0" stroke-linecap="round"/>
<line x1="1329" y1="1112.4" x2="1349" y2="1112.4" stroke="#000" stroke-width="4.0" stroke-linecap="round"/>
<line x1="1329" y1="1185.7" x2="1349" y2="1185.7" stroke="#000" stroke-width="4.0" stroke-linecap="round"/>
<line x1="1329" y1="1263.4" x2="1349" y2="1263.4" stroke="#000" stroke-width="4.0" stroke-linecap="round"/>
<text transform="translate(1400.8,960) rotate(-90) scale(1.1,1)" x="-1.2" y="0" font-family="Liberation Sans" font-weight="bold" font-size="36" fill="#000" text-anchor="middle" style="letter-spacing:-2.5px">3.0</text>
<text transform="translate(1400.8,1037) rotate(-90) scale(1.1,1)" x="-1.2" y="0" font-family="Liberation Sans" font-weight="bold" font-size="36" fill="#000" text-anchor="middle" style="letter-spacing:-2.5px">2.5</text>
<text transform="translate(1400.8,1111) rotate(-90) scale(1.1,1)" x="-1.2" y="0" font-family="Liberation Sans" font-weight="bold" font-size="36" fill="#000" text-anchor="middle" style="letter-spacing:-2.5px">2.0</text>
<text transform="translate(1400.8,1183) rotate(-90) scale(1.1,1)" x="-1.2" y="0" font-family="Liberation Sans" font-weight="bold" font-size="36" fill="#000" text-anchor="middle" style="letter-spacing:-2.5px">1.5</text>
<text transform="translate(1400.8,1261) rotate(-90) scale(1.1,1)" x="-1.2" y="0" font-family="Liberation Sans" font-weight="bold" font-size="36" fill="#000" text-anchor="middle" style="letter-spacing:-2.5px">1.0</text>
<line x1="78.6" y1="1328" x2="78.6" y2="1346" stroke="#000" stroke-width="4.0" stroke-linecap="round"/>
<line x1="160.5" y1="1328" x2="160.5" y2="1346" stroke="#000" stroke-width="4.0" stroke-linecap="round"/>
<line x1="239" y1="1328" x2="239" y2="1346" stroke="#000" stroke-width="4.0" stroke-linecap="round"/>
<line x1="320.9" y1="1328" x2="320.9" y2="1346" stroke="#000" stroke-width="4.0" stroke-linecap="round"/>
<line x1="399.3" y1="1328" x2="399.3" y2="1346" stroke="#000" stroke-width="4.0" stroke-linecap="round"/>
<line x1="480.9" y1="1328" x2="480.9" y2="1346" stroke="#000" stroke-width="4.0" stroke-linecap="round"/>
<text transform="translate(78.6,1399.3) scale(1.1,1)" x="0" y="0" font-family="Liberation Sans" font-weight="bold" font-size="36" fill="#000" text-anchor="middle">4</text>
<text transform="translate(160.5,1399.3) scale(1.1,1)" x="0" y="0" font-family="Liberation Sans" font-weight="bold" font-size="36" fill="#000" text-anchor="middle">5</text>
<text transform="translate(239,1399.3) scale(1.1,1)" x="0" y="0" font-family="Liberation Sans" font-weight="bold" font-size="36" fill="#000" text-anchor="middle">6</text>
<text transform="translate(320.9,1399.3) scale(1.1,1)" x="0" y="0" font-family="Liberation Sans" font-weight="bold" font-size="36" fill="#000" text-anchor="middle">7</text>
<text transform="translate(399.3,1399.3) scale(1.1,1)" x="0" y="0" font-family="Liberation Sans" font-weight="bold" font-size="36" fill="#000" text-anchor="middle">8</text>
<text transform="translate(480.9,1399.3) scale(1.1,1)" x="0" y="0" font-family="Liberation Sans" font-weight="bold" font-size="36" fill="#000" text-anchor="middle">9</text>
<line x1="981.1" y1="1328" x2="981.1" y2="1345" stroke="#000" stroke-width="4.0" stroke-linecap="round"/>
<line x1="1054" y1="1328" x2="1054" y2="1345" stroke="#000" stroke-width="4.0" stroke-linecap="round"/>
<line x1="1127.2" y1="1328" x2="1127.2" y2="1345" stroke="#000" stroke-width="4.0" stroke-linecap="round"/>
<line x1="1199.9" y1="1328" x2="1199.9" y2="1345" stroke="#000" stroke-width="4.0" stroke-linecap="round"/>
<line x1="1273.1" y1="1328" x2="1273.1" y2="1345" stroke="#000" stroke-width="4.0" stroke-linecap="round"/>
<text transform="translate(981.1,1399.3) scale(1.1,1)" x="-1.2" y="0" font-family="Liberation Sans" font-weight="bold" font-size="36" fill="#000" text-anchor="middle" style="letter-spacing:-2.5px">1.0</text>
<text transform="translate(1054,1399.3) scale(1.1,1)" x="-1.2" y="0" font-family="Liberation Sans" font-weight="bold" font-size="36" fill="#000" text-anchor="middle" style="letter-spacing:-2.5px">1.5</text>
<text transform="translate(1127.2,1399.3) scale(1.1,1)" x="-1.2" y="0" font-family="Liberation Sans" font-weight="bold" font-size="36" fill="#000" text-anchor="middle" style="letter-spacing:-2.5px">2.0</text>
<text transform="translate(1199.9,1399.3) scale(1.1,1)" x="-1.2" y="0" font-family="Liberation Sans" font-weight="bold" font-size="36" fill="#000" text-anchor="middle" style="letter-spacing:-2.5px">2.5</text>
<text transform="translate(1273.1,1399.3) scale(1.1,1)" x="-1.2" y="0" font-family="Liberation Sans" font-weight="bold" font-size="36" fill="#000" text-anchor="middle" style="letter-spacing:-2.5px">3.0</text>
<text x="358" y="168.5" font-family="Liberation Sans" font-size="62" fill="#000" stroke="#000" stroke-width="1.6" textLength="114" lengthAdjust="spacingAndGlyphs">MW</text>
<text x="771.5" y="578.5" font-family="Liberation Sans" font-size="62" fill="#000" stroke="#000" stroke-width="1.6" textLength="128" lengthAdjust="spacingAndGlyphs">TMT</text>
<text x="1154" y="1006" font-family="Liberation Sans" font-size="62" fill="#000" stroke="#000" stroke-width="1.6" textLength="129.5" lengthAdjust="spacingAndGlyphs">MBT</text>
<text transform="translate(699,318.6) scale(0.972,1)" x="0" y="0" font-family="Liberation Sans" font-size="92" fill="#000" text-anchor="middle" stroke="#000" stroke-width="0.6">0.38</text>
<text transform="translate(1121,315.3) scale(0.94,1)" x="0" y="0" font-family="Liberation Sans" font-size="83" fill="#000" text-anchor="middle" stroke="#fff" stroke-width="2.4">0.28</text>
<text transform="translate(1118,756.6) scale(0.97,1)" x="0" y="0" font-family="Liberation Sans" font-size="156.5" fill="#000" text-anchor="middle">0.85</text>
<g clip-path="url(#c12)"><path d="M766.2,163.8l0,-23M766.2,163.8l-24.7,-7.1M766.2,163.8l24.7,-7.1M766.2,163.8l-13.1,15.9M766.2,163.8l13.1,15.9" stroke="#e84a6b" stroke-width="10" stroke-linecap="round" fill="none"/><path d="M829.8,163.8l0,-23M829.8,163.8l-24.7,-7.1M829.8,163.8l24.7,-7.1M829.8,163.8l-13.1,15.9M829.8,163.8l13.1,15.9" stroke="#e84a6b" stroke-width="10" stroke-linecap="round" fill="none"/><path d="M893.4,163.8l0,-23M893.4,163.8l-24.7,-7.1M893.4,163.8l24.7,-7.1M893.4,163.8l-13.1,15.9M893.4,163.8l13.1,15.9" stroke="#e84a6b" stroke-width="10" stroke-linecap="round" fill="none"/></g>
<g clip-path="url(#c13)"><path d="M1182.8,163.3l0,-23M1182.8,163.3l-24.7,-7.1M1182.8,163.3l24.7,-7.1M1182.8,163.3l-13.1,15.9M1182.8,163.3l13.1,15.9" stroke="#e84a6b" stroke-width="10" stroke-linecap="round" fill="none"/><path d="M1246.6,163.3l0,-23M1246.6,163.3l-24.7,-7.1M1246.6,163.3l24.7,-7.1M1246.6,163.3l-13.1,15.9M1246.6,163.3l13.1,15.9" stroke="#e84a6b" stroke-width="10" stroke-linecap="round" fill="none"/><path d="M1310.5,163.3l0,-23M1310.5,163.3l-24.7,-7.1M1310.5,163.3l24.7,-7.1M1310.5,163.3l-13.1,15.9M1310.5,163.3l13.1,15.9" stroke="#e84a6b" stroke-width="10" stroke-linecap="round" fill="none"/></g>
<g clip-path="url(#c23)"><path d="M1182.0,580.0l0,-23M1182.0,580.0l-24.7,-7.1M1182.0,580.0l24.7,-7.1M1182.0,580.0l-13.1,15.9M1182.0,580.0l13.1,15.9" stroke="#e84a6b" stroke-width="10" stroke-linecap="round" fill="none"/><path d="M1246.0,580.0l0,-23M1246.0,580.0l-24.7,-7.1M1246.0,580.0l24.7,-7.1M1246.0,580.0l-13.1,15.9M1246.0,580.0l13.1,15.9" stroke="#e84a6b" stroke-width="10" stroke-linecap="round" fill="none"/><path d="M1310.0,580.0l0,-23M1310.0,580.0l-24.7,-7.1M1310.0,580.0l24.7,-7.1M1310.0,580.0l-13.1,15.9M1310.0,580.0l13.1,15.9" stroke="#e84a6b" stroke-width="10" stroke-linecap="round" fill="none"/></g>
</svg></body></html>
